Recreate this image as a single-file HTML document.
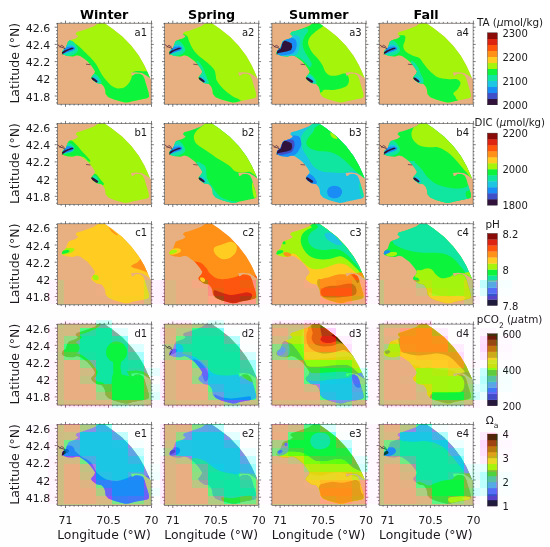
<!DOCTYPE html><html><head><meta charset="utf-8"><title>Seasonal carbonate maps</title>
<style>html,body{margin:0;padding:0;background:#fff}svg{display:block}text{font-family:"DejaVu Sans","Liberation Sans",sans-serif;fill:#1a1a1a}</style></head><body>
<svg width="550" height="547" viewBox="0 0 550 547">
<defs><filter id="dc" x="0" y="0" width="560" height="552" filterUnits="userSpaceOnUse" primitiveUnits="userSpaceOnUse" color-interpolation-filters="sRGB">
<feFlood flood-color="#fff" result="w"/>
<feMerge result="src"><feMergeNode in="w"/><feMergeNode in="SourceGraphic"/></feMerge>
<feColorMatrix in="src" type="matrix" values="0.25 -0.20935 -0.04065 0 0.25  0 0 0 0 0  -0.08435 -0.16565 0.25 0 0.25  0 0 0 0 1" result="ch"/>
<feColorMatrix in="src" type="matrix" values="-0.25 0.20935 0.04065 0 0.25  0 0 0 0 0  0.08435 0.16565 -0.25 0 0.25  0 0 0 0 1" result="cn"/>
<feConvolveMatrix in="ch" order="16 1" kernelMatrix="1 1 1 1 1 1 1 1 1 1 1 1 1 1 1 1" divisor="16" targetX="8" targetY="0" edgeMode="duplicate" preserveAlpha="true" result="bh"/>
<feConvolveMatrix in="bh" order="1 8" kernelMatrix="1 1 1 1 1 1 1 1" divisor="8" targetX="0" targetY="4" edgeMode="duplicate" preserveAlpha="true" result="box"/>
<feFlood x="8" y="4" width="1" height="1" flood-color="#000" result="dot"/>
<feOffset in="dot" dx="0" dy="0" x="0" y="0" width="16" height="8" result="cell"/>
<feTile in="cell" result="grid"/>
<feComposite in="box" in2="grid" operator="in" result="smp"/>
<feMorphology in="smp" operator="dilate" radius="7 3" result="d1"/>
<feOffset in="d1" dx="-1" dy="0" result="d2"/>
<feOffset in="d1" dx="0" dy="-1" result="d3"/>
<feOffset in="d1" dx="-1" dy="-1" result="d4"/>
<feMerge result="blk"><feMergeNode in="d4"/><feMergeNode in="d3"/><feMergeNode in="d2"/><feMergeNode in="d1"/></feMerge>
<feComposite in="blk" in2="cn" operator="arithmetic" k1="0" k2="1" k3="1" k4="0" result="dd"/>
<feColorMatrix in="dd" type="matrix" values="1 0 0 0 0  0 0 0 0 0  0 0 0 0 0.5  0 0 0 0 1" result="ddA"/>
<feOffset in="dd" dx="0" dy="0" x="0" y="600" width="560" height="300" result="ddB"/>
<feMerge result="ddm"><feMergeNode in="ddA"/><feMergeNode in="ddB"/></feMerge>
<feColorMatrix in="ddm" type="matrix" values="0.701 0 0 0 0.1495  -0.357 0 -0.172 0 0.7645  0 0 0.886 0 0.057  0 0 0 0 1" result="xx"/>
<feComposite in="src" in2="xx" operator="arithmetic" k1="0" k2="1" k3="4" k4="-2" x="0" y="280" width="560" height="300" result="low"/>
<feMerge><feMergeNode in="src"/><feMergeNode in="low"/></feMerge>
</filter></defs>
<defs><clipPath id="wm"><path d="M41.5 -0.5 L37.1 2.8 L30.7 5.2 L25.1 7.2 L19.5 8.8 L18.3 10.8 L21.1 13.2 L18.3 15.2 L14.7 16.4 L12.3 17.2 L10.8 18.4 L9.6 21.5 L8.6 24.6 L5.6 27.0 L4.3 30.0 L5.9 31.4 L10.1 32.8 L15.7 33.2 L19.7 32.0 L22.9 32.8 L26.9 35.6 L30.1 38.0 L33.3 41.6 L35.7 44.8 L37.8 48.2 L36.7 50.8 L34.6 53.0 L33.7 54.6 L35.0 56.6 L39.3 59.8 L44.3 60.8 L46.7 63.6 L47.8 66.5 L48.3 70.8 L51.1 74.0 L56.7 76.4 L63.8 78.4 L68.0 79.4 L71.5 79.1 L75.0 78.0 L79.0 77.2 L84.8 76.1 L89.9 75.0 L91.8 73.5 L91.4 69.8 L89.9 64.7 L88.5 60.3 L87.4 56.0 L85.6 52.3 L82.6 50.5 L78.2 50.5 L76.4 51.9 L74.6 52.7 L73.9 50.1 L73.5 49.4 L79.0 49.0 L84.8 49.7 L89.2 52.3 L92.8 55.0 L90.0 48.6 L87.0 42.0 L81.6 32.6 L74.0 22.6 L65.0 13.2 L54.5 5.0 L46.5 -0.5Z"/></clipPath><clipPath id="pc"><rect x="0" y="0" width="93.9" height="81.0"/></clipPath></defs>
<rect width="550" height="547" fill="#fff"/>
<g id="art" filter="url(#dc)">
<g transform="translate(57.3 23.2)">
<g clip-path="url(#pc)">
<rect x="0" y="0" width="93.9" height="81.0" fill="#e8b080"/>
<path d="M46.5 -2.0 L46.5 -0.5 L54.5 5.0 L65.0 13.2 L74.0 22.6 L81.6 32.6 L87.0 42.0 L90.0 48.6 L92.8 55.0 L96.0 58.0 L96.0 -2.0Z" fill="#fff"/>
<g clip-path="url(#wm)">
<rect x="-2" y="-2" width="100" height="86" fill="#a4f40c"/>
<path d="M11.2 16.4 C13.7 16.5 11.8 16.4 13.1 17.2 C14.3 17.9 16.8 19.4 18.7 20.8 C20.6 22.2 22.6 23.9 24.3 25.5 C26.1 27.1 27.3 28.7 29.1 30.4 C30.8 32.2 33.1 34.3 34.7 36.1 C36.3 37.8 37.6 39.2 38.7 40.8 C39.8 42.4 40.4 43.7 41.4 45.5 C42.4 47.3 43.4 49.6 44.7 51.5 C46.0 53.5 47.4 55.3 49.1 57.2 C50.7 59.0 52.8 61.5 54.7 62.8 C56.6 64.1 58.3 64.9 60.3 65.2 C62.3 65.4 64.9 65.2 66.7 64.4 C68.5 63.6 70.0 62.0 71.2 60.4 C72.5 58.9 73.4 56.9 74.0 55.3 C74.6 53.8 74.5 52.4 74.9 51.3 C75.2 50.3 74.5 49.3 76.0 48.8 C77.5 48.3 80.7 47.5 84.0 48.1 C87.3 48.6 93.8 46.6 95.8 52.3 C97.8 58.0 112.0 77.3 95.8 82.3 C79.6 87.3 14.7 93.2 -1.5 82.3 C-17.7 71.3 -3.6 27.8 -1.5 16.8 C0.6 5.8 8.8 16.4 11.2 16.4Z" fill="#0cf43c"/>
<path d="M9.1 17.2 C10.8 16.1 13.2 17.0 14.9 17.9 C16.5 18.7 17.9 20.7 18.9 22.3 C19.9 23.8 21.0 25.9 20.7 27.3 C20.4 28.8 18.8 30.1 17.1 31.0 C15.3 31.9 12.3 32.7 10.3 32.8 C8.4 32.9 6.4 33.2 5.4 31.7 C4.4 30.3 3.7 26.5 4.3 24.1 C4.9 21.6 7.3 18.2 9.1 17.2Z" fill="#10e6a0"/>
<path d="M10.3 21.9 C11.9 21.0 13.6 21.5 14.9 21.9 C16.1 22.3 17.4 23.6 17.8 24.4 C18.2 25.3 17.9 26.3 17.1 27.0 C16.2 27.7 14.3 28.3 12.7 28.8 C11.1 29.3 8.5 30.6 7.2 30.3 C6.0 30.0 4.9 28.4 5.4 27.0 C5.9 25.6 8.8 22.7 10.3 21.9Z" fill="#1cc6e2"/>
<path d="M8.0 24.8 C9.2 23.6 11.9 23.5 13.4 23.3 C14.9 23.2 16.4 23.6 17.1 24.1 C17.7 24.6 17.9 25.6 17.2 26.3 C16.6 26.9 14.7 27.4 13.4 27.9 C12.1 28.4 10.7 28.8 9.4 29.2 C8.2 29.6 6.0 31.0 5.8 30.3 C5.5 29.5 6.7 26.0 8.0 24.8Z" fill="#1a8cf5"/>
<path d="M4.7 29.0 C5.2 28.5 6.6 27.6 8.0 27.0 C9.3 26.3 11.4 25.4 12.7 25.0 C14.0 24.6 15.1 24.5 15.6 24.6 C16.2 24.7 16.4 25.2 16.0 25.5 C15.5 25.9 14.2 26.2 13.1 26.6 C11.9 27.1 10.3 27.6 9.1 28.3 C7.9 28.9 6.5 30.1 5.8 30.4 C5.1 30.7 5.1 30.3 4.9 30.1 C4.7 29.8 4.2 29.5 4.7 29.0Z" fill="#30123b"/>
<path d="M35.2 51.0 C36.0 50.2 37.7 50.6 38.9 51.3 C40.1 52.1 41.6 54.0 42.5 55.3 C43.4 56.7 44.5 58.6 44.3 59.5 C44.2 60.4 43.0 60.8 41.8 60.8 C40.6 60.8 38.3 60.3 37.1 59.5 C35.9 58.7 34.8 57.3 34.5 55.9 C34.2 54.5 34.5 51.7 35.2 51.0Z" fill="#10e6a0"/>
<path d="M36.0 53.5 C36.4 53.0 37.7 53.2 38.5 53.7 C39.3 54.2 40.4 55.6 40.9 56.4 C41.4 57.3 41.9 58.5 41.6 59.0 C41.4 59.5 40.4 59.7 39.4 59.3 C38.5 59.0 36.4 57.8 35.8 56.8 C35.2 55.8 35.5 54.0 36.0 53.5Z" fill="#1cc6e2"/>
<path d="M34.0 54.8 C34.2 54.5 34.4 54.0 35.4 54.4 C36.4 54.9 39.3 56.9 40.0 57.7 C40.6 58.5 39.8 59.0 39.4 59.2 C39.1 59.3 38.6 59.1 37.8 58.6 C36.9 58.1 35.0 56.9 34.3 56.3 C33.7 55.6 33.8 55.1 34.0 54.8Z" fill="#30123b"/>
</g>
<path d="M0.3 21.3 L3.1 23.7 L5.8 24.4 L8.0 25.9" fill="none" stroke="#3a1030" stroke-width="0.7"/>
<path d="M4.9 31.3 L6.2 28.6 L7.6 27.3" fill="none" stroke="#3a1030" stroke-width="0.7"/>
<path d="M2.2 24.1 L4.3 21.9 L7.2 24.1" fill="none" stroke="#3a1030" stroke-width="0.6"/>
<path d="M28.7 41.0 L33.1 41.5" fill="none" stroke="#3a1030" stroke-width="0.6"/>
</g>
<rect x="0" y="0" width="93.9" height="81.0" fill="none" stroke="#484848" stroke-width="0.6"/>
<path d="M0 0.6h-1.3 M93.9 0.6h1.3 M0 4.0h-2.6 M93.9 4.0h2.6 M0 7.4h-1.3 M93.9 7.4h1.3 M0 10.9h-1.3 M93.9 10.9h1.3 M0 14.3h-1.3 M93.9 14.3h1.3 M0 17.8h-1.3 M93.9 17.8h1.3 M0 21.2h-2.6 M93.9 21.2h2.6 M0 24.6h-1.3 M93.9 24.6h1.3 M0 28.1h-1.3 M93.9 28.1h1.3 M0 31.5h-1.3 M93.9 31.5h1.3 M0 35.0h-1.3 M93.9 35.0h1.3 M0 38.4h-2.6 M93.9 38.4h2.6 M0 41.8h-1.3 M93.9 41.8h1.3 M0 45.3h-1.3 M93.9 45.3h1.3 M0 48.7h-1.3 M93.9 48.7h1.3 M0 52.2h-1.3 M93.9 52.2h1.3 M0 55.6h-2.6 M93.9 55.6h2.6 M0 59.0h-1.3 M93.9 59.0h1.3 M0 62.5h-1.3 M93.9 62.5h1.3 M0 65.9h-1.3 M93.9 65.9h1.3 M0 69.4h-1.3 M93.9 69.4h1.3 M0 72.8h-2.6 M93.9 72.8h2.6 M0 76.2h-1.3 M93.9 76.2h1.3 M0 79.7h-1.3 M93.9 79.7h1.3 M3.9 0v-1.3 M3.9 81.0v1.3 M8.2 0v-2.6 M8.2 81.0v2.6 M12.5 0v-1.3 M12.5 81.0v1.3 M16.8 0v-1.3 M16.8 81.0v1.3 M21.1 0v-1.3 M21.1 81.0v1.3 M25.4 0v-1.3 M25.4 81.0v1.3 M29.7 0v-1.3 M29.7 81.0v1.3 M34.0 0v-1.3 M34.0 81.0v1.3 M38.3 0v-1.3 M38.3 81.0v1.3 M42.6 0v-1.3 M42.6 81.0v1.3 M46.9 0v-1.3 M46.9 81.0v1.3 M51.2 0v-2.6 M51.2 81.0v2.6 M55.5 0v-1.3 M55.5 81.0v1.3 M59.8 0v-1.3 M59.8 81.0v1.3 M64.1 0v-1.3 M64.1 81.0v1.3 M68.4 0v-1.3 M68.4 81.0v1.3 M72.7 0v-1.3 M72.7 81.0v1.3 M77.0 0v-1.3 M77.0 81.0v1.3 M81.3 0v-1.3 M81.3 81.0v1.3 M85.6 0v-1.3 M85.6 81.0v1.3 M89.9 0v-1.3 M89.9 81.0v1.3 M94.2 0v-2.6 M94.2 81.0v2.6" stroke="#222" stroke-width="0.6" fill="none"/>
<text x="89.8" y="12.7" font-size="10" text-anchor="end" font-weight="normal" >a1</text>
</g>
<g transform="translate(164.6 23.2)">
<g clip-path="url(#pc)">
<rect x="0" y="0" width="93.9" height="81.0" fill="#e8b080"/>
<path d="M46.5 -2.0 L46.5 -0.5 L54.5 5.0 L65.0 13.2 L74.0 22.6 L81.6 32.6 L87.0 42.0 L90.0 48.6 L92.8 55.0 L96.0 58.0 L96.0 -2.0Z" fill="#fff"/>
<g clip-path="url(#wm)">
<rect x="-2" y="-2" width="100" height="86" fill="#a4f40c"/>
<path d="M13.8 9.5 C17.6 10.0 20.1 10.7 21.9 12.3 C23.8 13.8 23.6 16.3 24.7 18.6 C25.7 20.9 26.8 23.6 28.3 25.9 C29.8 28.2 31.3 30.0 33.8 32.3 C36.2 34.5 40.3 37.3 42.9 39.5 C45.4 41.8 47.9 43.9 49.2 45.9 C50.6 47.9 50.6 49.5 51.0 51.3 C51.5 53.2 51.2 55.0 51.9 56.8 C52.7 58.6 54.1 60.4 55.6 62.3 C57.1 64.1 58.9 65.9 61.0 67.7 C63.2 69.5 65.9 71.6 68.3 73.2 C70.7 74.7 74.0 75.3 75.2 76.8 C76.4 78.3 88.2 81.3 75.6 82.3 C62.9 83.2 11.9 94.4 -0.8 82.3 C-13.5 70.1 -3.2 21.6 -0.8 9.5 C1.6 -2.6 10.0 9.1 13.8 9.5Z" fill="#0cf43c"/>
<path d="M31.9 38.3 C31.9 37.2 33.6 38.0 34.7 39.0 C35.7 40.0 37.3 42.5 38.3 44.4 C39.3 46.3 40.0 48.6 40.7 50.4 C41.4 52.3 42.6 54.3 42.5 55.3 C42.4 56.4 41.1 57.3 40.3 56.8 C39.5 56.3 38.7 54.1 37.8 52.3 C36.8 50.4 35.6 47.9 34.7 45.5 C33.7 43.2 31.9 39.3 31.9 38.3Z" fill="#10e6a0"/>
<path d="M9.0 17.2 C10.8 16.1 13.2 17.0 14.9 17.9 C16.5 18.7 17.9 20.7 18.9 22.3 C19.8 23.8 21.0 25.9 20.7 27.3 C20.4 28.8 18.8 30.1 17.0 31.0 C15.3 31.9 12.2 32.7 10.3 32.8 C8.4 32.9 6.4 33.2 5.4 31.7 C4.4 30.3 3.7 26.5 4.3 24.1 C4.9 21.6 7.3 18.2 9.0 17.2Z" fill="#10e6a0"/>
<path d="M10.3 21.9 C11.9 21.0 13.6 21.5 14.9 21.9 C16.1 22.3 17.4 23.6 17.8 24.4 C18.1 25.3 17.9 26.3 17.0 27.0 C16.2 27.7 14.3 28.3 12.7 28.8 C11.0 29.3 8.4 30.6 7.2 30.3 C6.0 30.0 4.9 28.4 5.4 27.0 C5.9 25.6 8.7 22.7 10.3 21.9Z" fill="#1cc6e2"/>
<path d="M7.9 24.8 C9.2 23.6 11.9 23.5 13.4 23.3 C14.9 23.2 16.4 23.6 17.0 24.1 C17.7 24.6 17.8 25.6 17.2 26.3 C16.6 26.9 14.7 27.4 13.4 27.9 C12.1 28.4 10.7 28.8 9.4 29.2 C8.1 29.6 6.0 31.0 5.8 30.3 C5.5 29.5 6.7 26.0 7.9 24.8Z" fill="#1a8cf5"/>
<path d="M4.7 29.0 C5.2 28.5 6.6 27.6 7.9 27.0 C9.3 26.3 11.4 25.4 12.7 25.0 C13.9 24.6 15.0 24.5 15.6 24.6 C16.1 24.7 16.4 25.2 15.9 25.5 C15.5 25.9 14.2 26.2 13.0 26.6 C11.9 27.1 10.2 27.6 9.0 28.3 C7.8 28.9 6.5 30.1 5.8 30.4 C5.1 30.7 5.0 30.3 4.9 30.1 C4.7 29.8 4.2 29.5 4.7 29.0Z" fill="#30123b"/>
<path d="M35.2 51.0 C35.9 50.2 37.6 50.6 38.9 51.3 C40.1 52.1 41.6 54.0 42.5 55.3 C43.4 56.7 44.4 58.6 44.3 59.5 C44.2 60.4 43.0 60.8 41.8 60.8 C40.6 60.8 38.2 60.3 37.0 59.5 C35.8 58.7 34.8 57.3 34.5 55.9 C34.2 54.5 34.5 51.7 35.2 51.0Z" fill="#10e6a0"/>
<path d="M35.9 53.5 C36.4 53.0 37.7 53.2 38.5 53.7 C39.3 54.2 40.3 55.6 40.9 56.4 C41.4 57.3 41.8 58.5 41.6 59.0 C41.3 59.5 40.4 59.7 39.4 59.3 C38.4 59.0 36.3 57.8 35.8 56.8 C35.2 55.8 35.5 54.0 35.9 53.5Z" fill="#1cc6e2"/>
<path d="M33.9 54.8 C34.1 54.5 34.4 54.0 35.4 54.4 C36.4 54.9 39.3 56.9 39.9 57.7 C40.6 58.5 39.8 59.0 39.4 59.2 C39.0 59.3 38.6 59.1 37.8 58.6 C36.9 58.1 34.9 56.9 34.3 56.3 C33.7 55.6 33.8 55.1 33.9 54.8Z" fill="#30123b"/>
</g>
<path d="M0.3 21.3 L3.1 23.7 L5.8 24.4 L8.0 25.9" fill="none" stroke="#3a1030" stroke-width="0.7"/>
<path d="M4.9 31.3 L6.2 28.6 L7.6 27.3" fill="none" stroke="#3a1030" stroke-width="0.7"/>
<path d="M2.2 24.1 L4.3 21.9 L7.2 24.1" fill="none" stroke="#3a1030" stroke-width="0.6"/>
<path d="M28.7 41.0 L33.1 41.5" fill="none" stroke="#3a1030" stroke-width="0.6"/>
</g>
<rect x="0" y="0" width="93.9" height="81.0" fill="none" stroke="#484848" stroke-width="0.6"/>
<path d="M0 0.6h-1.3 M93.9 0.6h1.3 M0 4.0h-2.6 M93.9 4.0h2.6 M0 7.4h-1.3 M93.9 7.4h1.3 M0 10.9h-1.3 M93.9 10.9h1.3 M0 14.3h-1.3 M93.9 14.3h1.3 M0 17.8h-1.3 M93.9 17.8h1.3 M0 21.2h-2.6 M93.9 21.2h2.6 M0 24.6h-1.3 M93.9 24.6h1.3 M0 28.1h-1.3 M93.9 28.1h1.3 M0 31.5h-1.3 M93.9 31.5h1.3 M0 35.0h-1.3 M93.9 35.0h1.3 M0 38.4h-2.6 M93.9 38.4h2.6 M0 41.8h-1.3 M93.9 41.8h1.3 M0 45.3h-1.3 M93.9 45.3h1.3 M0 48.7h-1.3 M93.9 48.7h1.3 M0 52.2h-1.3 M93.9 52.2h1.3 M0 55.6h-2.6 M93.9 55.6h2.6 M0 59.0h-1.3 M93.9 59.0h1.3 M0 62.5h-1.3 M93.9 62.5h1.3 M0 65.9h-1.3 M93.9 65.9h1.3 M0 69.4h-1.3 M93.9 69.4h1.3 M0 72.8h-2.6 M93.9 72.8h2.6 M0 76.2h-1.3 M93.9 76.2h1.3 M0 79.7h-1.3 M93.9 79.7h1.3 M3.9 0v-1.3 M3.9 81.0v1.3 M8.2 0v-2.6 M8.2 81.0v2.6 M12.5 0v-1.3 M12.5 81.0v1.3 M16.8 0v-1.3 M16.8 81.0v1.3 M21.1 0v-1.3 M21.1 81.0v1.3 M25.4 0v-1.3 M25.4 81.0v1.3 M29.7 0v-1.3 M29.7 81.0v1.3 M34.0 0v-1.3 M34.0 81.0v1.3 M38.3 0v-1.3 M38.3 81.0v1.3 M42.6 0v-1.3 M42.6 81.0v1.3 M46.9 0v-1.3 M46.9 81.0v1.3 M51.2 0v-2.6 M51.2 81.0v2.6 M55.5 0v-1.3 M55.5 81.0v1.3 M59.8 0v-1.3 M59.8 81.0v1.3 M64.1 0v-1.3 M64.1 81.0v1.3 M68.4 0v-1.3 M68.4 81.0v1.3 M72.7 0v-1.3 M72.7 81.0v1.3 M77.0 0v-1.3 M77.0 81.0v1.3 M81.3 0v-1.3 M81.3 81.0v1.3 M85.6 0v-1.3 M85.6 81.0v1.3 M89.9 0v-1.3 M89.9 81.0v1.3 M94.2 0v-2.6 M94.2 81.0v2.6" stroke="#222" stroke-width="0.6" fill="none"/>
<text x="89.8" y="12.7" font-size="10" text-anchor="end" font-weight="normal" >a2</text>
</g>
<g transform="translate(271.9 23.2)">
<g clip-path="url(#pc)">
<rect x="0" y="0" width="93.9" height="81.0" fill="#e8b080"/>
<path d="M46.5 -2.0 L46.5 -0.5 L54.5 5.0 L65.0 13.2 L74.0 22.6 L81.6 32.6 L87.0 42.0 L90.0 48.6 L92.8 55.0 L96.0 58.0 L96.0 -2.0Z" fill="#fff"/>
<g clip-path="url(#wm)">
<rect x="-2" y="-2" width="100" height="86" fill="#a4f40c"/>
<path d="M51.6 2.3 C50.3 3.9 45.7 6.6 43.5 8.6 C41.2 10.6 39.2 12.1 38.0 14.1 C36.8 16.0 35.9 18.0 36.2 20.4 C36.5 22.9 38.2 26.0 39.8 28.6 C41.5 31.2 44.4 33.6 46.2 35.9 C48.0 38.2 49.5 40.1 50.7 42.3 C51.9 44.4 52.3 47.0 53.5 48.6 C54.7 50.3 56.0 51.6 58.0 52.3 C60.0 52.9 63.0 52.6 65.3 52.3 C67.6 52.0 70.0 50.6 71.6 50.4 C73.3 50.3 74.4 50.3 75.3 51.3 C76.2 52.4 77.1 55.0 77.1 56.8 C77.1 58.6 76.5 60.9 75.3 62.3 C74.1 63.6 72.3 64.2 69.8 65.0 C67.4 65.7 63.8 66.5 60.7 66.8 C57.7 67.1 53.8 66.3 51.6 66.8 C49.5 67.3 52.6 68.5 48.0 69.5 C43.5 70.6 32.6 76.2 24.4 73.2 C16.2 70.1 3.2 63.8 -1.1 51.3 C-5.3 38.9 -9.9 7.4 -1.1 -1.4 C7.7 -10.2 42.9 -2.0 51.6 -1.4 C60.4 -0.8 53.0 0.6 51.6 2.3Z" fill="#0cf43c"/>
<path d="M15.3 7.7 C18.9 6.3 23.0 7.3 26.2 6.8 C29.4 6.3 32.7 4.8 34.4 5.0 C36.0 5.1 36.5 6.3 36.2 7.7 C35.9 9.1 33.5 11.0 32.6 13.2 C31.6 15.3 30.7 18.0 30.7 20.4 C30.7 22.9 31.6 25.4 32.6 27.7 C33.5 30.0 35.0 32.0 36.2 34.1 C37.4 36.2 39.5 38.8 39.8 40.4 C40.1 42.1 39.1 44.2 38.0 44.1 C36.9 43.9 35.4 41.2 33.5 39.5 C31.5 37.9 29.2 35.1 26.2 34.1 C23.2 33.0 18.9 33.3 15.3 33.2 C11.6 33.0 6.2 36.2 4.4 33.2 C2.6 30.1 2.6 19.2 4.4 15.0 C6.2 10.7 11.6 9.1 15.3 7.7Z" fill="#10e6a0"/>
<path d="M14.4 13.2 C17.6 12.1 22.1 12.0 24.4 12.3 C26.6 12.6 27.5 13.3 28.0 15.0 C28.6 16.6 27.9 20.0 27.6 22.3 C27.3 24.5 27.0 27.0 26.2 28.6 C25.3 30.3 24.4 31.5 22.6 32.3 C20.7 33.0 18.0 33.2 15.3 33.2 C12.6 33.2 7.9 34.7 6.2 32.3 C4.5 29.8 3.9 21.8 5.3 18.6 C6.6 15.4 11.2 14.2 14.4 13.2Z" fill="#1cc6e2"/>
<path d="M11.6 15.9 C14.4 15.0 19.5 14.4 21.6 15.0 C23.8 15.6 24.3 17.7 24.7 19.5 C25.1 21.3 24.7 24.1 24.0 25.9 C23.3 27.7 22.1 29.5 20.4 30.4 C18.6 31.4 15.8 31.6 13.5 31.7 C11.1 31.9 7.6 33.2 6.2 31.3 C4.8 29.5 4.4 23.0 5.3 20.4 C6.2 17.9 8.9 16.8 11.6 15.9Z" fill="#1a8cf5"/>
<path d="M4.6 30.4 L5.5 27.5 L9.0 25.3 L10.6 19.5 L12.6 17.3 L16.9 18.8 L19.8 20.3 L20.3 23.9 L19.2 26.8 L14.7 28.3 L10.6 29.0 L6.7 29.7Z" fill="#30123b"/>
<path d="M35.6 51.0 C36.4 50.2 38.1 50.6 39.3 51.3 C40.5 52.1 42.0 54.0 42.9 55.3 C43.8 56.7 44.9 58.6 44.7 59.5 C44.6 60.4 43.4 60.8 42.2 60.8 C41.0 60.8 38.7 60.3 37.5 59.5 C36.3 58.7 35.2 57.3 34.9 55.9 C34.6 54.5 34.9 51.7 35.6 51.0Z" fill="#10e6a0"/>
<path d="M36.2 52.8 C36.7 52.2 38.3 52.6 39.3 53.2 C40.2 53.8 41.3 55.4 41.8 56.4 C42.4 57.5 42.9 58.8 42.6 59.3 C42.2 59.9 40.9 60.1 39.8 59.7 C38.7 59.3 36.6 58.0 36.0 56.8 C35.4 55.6 35.6 53.4 36.2 52.8Z" fill="#1cc6e2"/>
<path d="M34.2 54.6 C34.4 54.3 34.9 53.7 36.0 54.3 C37.2 54.8 40.4 57.0 41.1 57.9 C41.8 58.8 40.9 59.3 40.4 59.5 C39.9 59.7 39.2 59.5 38.2 59.0 C37.2 58.4 35.2 57.0 34.6 56.3 C33.9 55.5 33.9 55.0 34.2 54.6Z" fill="#30123b"/>
</g>
<path d="M0.3 21.3 L3.1 23.7 L5.8 24.4 L8.0 25.9" fill="none" stroke="#3a1030" stroke-width="0.7"/>
<path d="M4.9 31.3 L6.2 28.6 L7.6 27.3" fill="none" stroke="#3a1030" stroke-width="0.7"/>
<path d="M2.2 24.1 L4.3 21.9 L7.2 24.1" fill="none" stroke="#3a1030" stroke-width="0.6"/>
<path d="M28.7 41.0 L33.1 41.5" fill="none" stroke="#3a1030" stroke-width="0.6"/>
</g>
<rect x="0" y="0" width="93.9" height="81.0" fill="none" stroke="#484848" stroke-width="0.6"/>
<path d="M0 0.6h-1.3 M93.9 0.6h1.3 M0 4.0h-2.6 M93.9 4.0h2.6 M0 7.4h-1.3 M93.9 7.4h1.3 M0 10.9h-1.3 M93.9 10.9h1.3 M0 14.3h-1.3 M93.9 14.3h1.3 M0 17.8h-1.3 M93.9 17.8h1.3 M0 21.2h-2.6 M93.9 21.2h2.6 M0 24.6h-1.3 M93.9 24.6h1.3 M0 28.1h-1.3 M93.9 28.1h1.3 M0 31.5h-1.3 M93.9 31.5h1.3 M0 35.0h-1.3 M93.9 35.0h1.3 M0 38.4h-2.6 M93.9 38.4h2.6 M0 41.8h-1.3 M93.9 41.8h1.3 M0 45.3h-1.3 M93.9 45.3h1.3 M0 48.7h-1.3 M93.9 48.7h1.3 M0 52.2h-1.3 M93.9 52.2h1.3 M0 55.6h-2.6 M93.9 55.6h2.6 M0 59.0h-1.3 M93.9 59.0h1.3 M0 62.5h-1.3 M93.9 62.5h1.3 M0 65.9h-1.3 M93.9 65.9h1.3 M0 69.4h-1.3 M93.9 69.4h1.3 M0 72.8h-2.6 M93.9 72.8h2.6 M0 76.2h-1.3 M93.9 76.2h1.3 M0 79.7h-1.3 M93.9 79.7h1.3 M3.9 0v-1.3 M3.9 81.0v1.3 M8.2 0v-2.6 M8.2 81.0v2.6 M12.5 0v-1.3 M12.5 81.0v1.3 M16.8 0v-1.3 M16.8 81.0v1.3 M21.1 0v-1.3 M21.1 81.0v1.3 M25.4 0v-1.3 M25.4 81.0v1.3 M29.7 0v-1.3 M29.7 81.0v1.3 M34.0 0v-1.3 M34.0 81.0v1.3 M38.3 0v-1.3 M38.3 81.0v1.3 M42.6 0v-1.3 M42.6 81.0v1.3 M46.9 0v-1.3 M46.9 81.0v1.3 M51.2 0v-2.6 M51.2 81.0v2.6 M55.5 0v-1.3 M55.5 81.0v1.3 M59.8 0v-1.3 M59.8 81.0v1.3 M64.1 0v-1.3 M64.1 81.0v1.3 M68.4 0v-1.3 M68.4 81.0v1.3 M72.7 0v-1.3 M72.7 81.0v1.3 M77.0 0v-1.3 M77.0 81.0v1.3 M81.3 0v-1.3 M81.3 81.0v1.3 M85.6 0v-1.3 M85.6 81.0v1.3 M89.9 0v-1.3 M89.9 81.0v1.3 M94.2 0v-2.6 M94.2 81.0v2.6" stroke="#222" stroke-width="0.6" fill="none"/>
<text x="89.8" y="12.7" font-size="10" text-anchor="end" font-weight="normal" >a3</text>
</g>
<g transform="translate(379.2 23.2)">
<g clip-path="url(#pc)">
<rect x="0" y="0" width="93.9" height="81.0" fill="#e8b080"/>
<path d="M46.5 -2.0 L46.5 -0.5 L54.5 5.0 L65.0 13.2 L74.0 22.6 L81.6 32.6 L87.0 42.0 L90.0 48.6 L92.8 55.0 L96.0 58.0 L96.0 -2.0Z" fill="#fff"/>
<g clip-path="url(#wm)">
<rect x="-2" y="-2" width="100" height="86" fill="#a4f40c"/>
<path d="M15.0 12.3 C19.4 12.3 23.2 11.5 25.0 12.3 C26.8 13.0 26.0 15.0 25.9 16.8 C25.7 18.6 23.9 21.2 24.1 23.2 C24.2 25.1 25.3 27.1 26.8 28.6 C28.3 30.1 30.9 31.2 33.2 32.3 C35.4 33.3 38.5 33.5 40.4 35.0 C42.4 36.5 43.2 39.1 45.0 41.3 C46.8 43.6 49.1 46.5 51.3 48.6 C53.6 50.7 55.9 52.9 58.6 54.1 C61.3 55.3 64.7 55.6 67.7 55.9 C70.7 56.2 74.5 55.3 76.8 55.9 C79.1 56.5 81.0 57.9 81.3 59.5 C81.6 61.2 79.8 64.1 78.6 65.9 C77.4 67.7 74.4 68.9 74.1 70.4 C73.8 72.0 76.8 73.0 76.8 75.0 C76.8 77.0 87.1 81.0 74.1 82.3 C61.0 83.5 11.2 93.9 -1.4 82.3 C-14.0 70.6 -4.1 23.9 -1.4 12.3 C1.3 0.6 10.6 12.3 15.0 12.3Z" fill="#0cf43c"/>
<path d="M31.7 38.3 C31.8 37.2 33.8 38.0 35.0 39.0 C36.2 40.0 37.9 42.5 39.0 44.4 C40.1 46.3 40.6 48.4 41.5 50.4 C42.4 52.5 44.3 55.3 44.4 56.8 C44.6 58.3 43.3 60.1 42.3 59.5 C41.2 58.9 39.5 55.5 38.3 53.2 C37.0 50.8 35.7 48.0 34.6 45.5 C33.5 43.0 31.6 39.3 31.7 38.3Z" fill="#10e6a0"/>
<path d="M9.2 17.2 C10.9 16.1 13.3 17.0 15.0 17.9 C16.6 18.7 18.0 20.7 19.0 22.3 C20.0 23.8 21.1 25.9 20.8 27.3 C20.5 28.8 18.9 30.1 17.2 31.0 C15.4 31.9 12.4 32.7 10.4 32.8 C8.5 32.9 6.5 33.2 5.5 31.7 C4.5 30.3 3.8 26.5 4.4 24.1 C5.0 21.6 7.4 18.2 9.2 17.2Z" fill="#10e6a0"/>
<path d="M10.4 21.9 C12.0 21.0 13.7 21.5 15.0 21.9 C16.2 22.3 17.5 23.6 17.9 24.4 C18.3 25.3 18.0 26.3 17.2 27.0 C16.3 27.7 14.4 28.3 12.8 28.8 C11.2 29.3 8.6 30.6 7.3 30.3 C6.1 30.0 5.0 28.4 5.5 27.0 C6.0 25.6 8.9 22.7 10.4 21.9Z" fill="#1cc6e2"/>
<path d="M8.1 24.8 C9.3 23.6 12.0 23.5 13.5 23.3 C15.0 23.2 16.5 23.6 17.2 24.1 C17.8 24.6 18.0 25.6 17.3 26.3 C16.7 26.9 14.8 27.4 13.5 27.9 C12.2 28.4 10.8 28.8 9.5 29.2 C8.3 29.6 6.1 31.0 5.9 30.3 C5.6 29.5 6.8 26.0 8.1 24.8Z" fill="#1a8cf5"/>
<path d="M4.8 29.0 C5.3 28.5 6.7 27.6 8.1 27.0 C9.4 26.3 11.5 25.4 12.8 25.0 C14.1 24.6 15.2 24.5 15.7 24.6 C16.3 24.7 16.5 25.2 16.1 25.5 C15.6 25.9 14.3 26.2 13.2 26.6 C12.0 27.1 10.4 27.6 9.2 28.3 C8.0 28.9 6.6 30.1 5.9 30.4 C5.2 30.7 5.2 30.3 5.0 30.1 C4.8 29.8 4.3 29.5 4.8 29.0Z" fill="#30123b"/>
<path d="M35.3 51.0 C36.1 50.2 37.8 50.6 39.0 51.3 C40.2 52.1 41.7 54.0 42.6 55.3 C43.5 56.7 44.6 58.6 44.4 59.5 C44.3 60.4 43.1 60.8 41.9 60.8 C40.7 60.8 38.4 60.3 37.2 59.5 C36.0 58.7 34.9 57.3 34.6 55.9 C34.3 54.5 34.6 51.7 35.3 51.0Z" fill="#10e6a0"/>
<path d="M36.1 53.5 C36.5 53.0 37.8 53.2 38.6 53.7 C39.4 54.2 40.5 55.6 41.0 56.4 C41.5 57.3 42.0 58.5 41.7 59.0 C41.5 59.5 40.5 59.7 39.5 59.3 C38.6 59.0 36.5 57.8 35.9 56.8 C35.3 55.8 35.6 54.0 36.1 53.5Z" fill="#1cc6e2"/>
<path d="M34.1 54.8 C34.3 54.5 34.5 54.0 35.5 54.4 C36.5 54.9 39.4 56.9 40.1 57.7 C40.7 58.5 39.9 59.0 39.5 59.2 C39.2 59.3 38.7 59.1 37.9 58.6 C37.0 58.1 35.1 56.9 34.4 56.3 C33.8 55.6 33.9 55.1 34.1 54.8Z" fill="#30123b"/>
</g>
<path d="M0.3 21.3 L3.1 23.7 L5.8 24.4 L8.0 25.9" fill="none" stroke="#3a1030" stroke-width="0.7"/>
<path d="M4.9 31.3 L6.2 28.6 L7.6 27.3" fill="none" stroke="#3a1030" stroke-width="0.7"/>
<path d="M2.2 24.1 L4.3 21.9 L7.2 24.1" fill="none" stroke="#3a1030" stroke-width="0.6"/>
<path d="M28.7 41.0 L33.1 41.5" fill="none" stroke="#3a1030" stroke-width="0.6"/>
</g>
<rect x="0" y="0" width="93.9" height="81.0" fill="none" stroke="#484848" stroke-width="0.6"/>
<path d="M0 0.6h-1.3 M93.9 0.6h1.3 M0 4.0h-2.6 M93.9 4.0h2.6 M0 7.4h-1.3 M93.9 7.4h1.3 M0 10.9h-1.3 M93.9 10.9h1.3 M0 14.3h-1.3 M93.9 14.3h1.3 M0 17.8h-1.3 M93.9 17.8h1.3 M0 21.2h-2.6 M93.9 21.2h2.6 M0 24.6h-1.3 M93.9 24.6h1.3 M0 28.1h-1.3 M93.9 28.1h1.3 M0 31.5h-1.3 M93.9 31.5h1.3 M0 35.0h-1.3 M93.9 35.0h1.3 M0 38.4h-2.6 M93.9 38.4h2.6 M0 41.8h-1.3 M93.9 41.8h1.3 M0 45.3h-1.3 M93.9 45.3h1.3 M0 48.7h-1.3 M93.9 48.7h1.3 M0 52.2h-1.3 M93.9 52.2h1.3 M0 55.6h-2.6 M93.9 55.6h2.6 M0 59.0h-1.3 M93.9 59.0h1.3 M0 62.5h-1.3 M93.9 62.5h1.3 M0 65.9h-1.3 M93.9 65.9h1.3 M0 69.4h-1.3 M93.9 69.4h1.3 M0 72.8h-2.6 M93.9 72.8h2.6 M0 76.2h-1.3 M93.9 76.2h1.3 M0 79.7h-1.3 M93.9 79.7h1.3 M3.9 0v-1.3 M3.9 81.0v1.3 M8.2 0v-2.6 M8.2 81.0v2.6 M12.5 0v-1.3 M12.5 81.0v1.3 M16.8 0v-1.3 M16.8 81.0v1.3 M21.1 0v-1.3 M21.1 81.0v1.3 M25.4 0v-1.3 M25.4 81.0v1.3 M29.7 0v-1.3 M29.7 81.0v1.3 M34.0 0v-1.3 M34.0 81.0v1.3 M38.3 0v-1.3 M38.3 81.0v1.3 M42.6 0v-1.3 M42.6 81.0v1.3 M46.9 0v-1.3 M46.9 81.0v1.3 M51.2 0v-2.6 M51.2 81.0v2.6 M55.5 0v-1.3 M55.5 81.0v1.3 M59.8 0v-1.3 M59.8 81.0v1.3 M64.1 0v-1.3 M64.1 81.0v1.3 M68.4 0v-1.3 M68.4 81.0v1.3 M72.7 0v-1.3 M72.7 81.0v1.3 M77.0 0v-1.3 M77.0 81.0v1.3 M81.3 0v-1.3 M81.3 81.0v1.3 M85.6 0v-1.3 M85.6 81.0v1.3 M89.9 0v-1.3 M89.9 81.0v1.3 M94.2 0v-2.6 M94.2 81.0v2.6" stroke="#222" stroke-width="0.6" fill="none"/>
<text x="89.8" y="12.7" font-size="10" text-anchor="end" font-weight="normal" >a4</text>
</g>
<g transform="translate(57.3 123.5)">
<g clip-path="url(#pc)">
<rect x="0" y="0" width="93.9" height="81.0" fill="#e8b080"/>
<path d="M46.5 -2.0 L46.5 -0.5 L54.5 5.0 L65.0 13.2 L74.0 22.6 L81.6 32.6 L87.0 42.0 L90.0 48.6 L92.8 55.0 L96.0 58.0 L96.0 -2.0Z" fill="#fff"/>
<g clip-path="url(#wm)">
<rect x="-2" y="-2" width="100" height="86" fill="#a4f40c"/>
<path d="M9.4 16.9 C11.1 15.8 12.9 16.4 14.5 17.2 C16.2 18.0 17.9 20.0 19.4 21.6 C21.0 23.2 22.2 25.0 24.0 27.0 C25.8 29.1 28.8 32.0 30.3 33.8 C31.9 35.5 32.9 36.7 33.1 37.4 C33.2 38.1 32.3 38.6 31.2 38.0 C30.2 37.3 28.5 34.7 26.7 33.8 C24.9 32.9 22.6 32.6 20.3 32.5 C18.1 32.4 15.5 33.4 13.1 33.4 C10.6 33.4 7.2 34.1 5.8 32.5 C4.3 30.9 3.7 26.4 4.3 23.8 C4.9 21.2 7.7 18.0 9.4 16.9Z" fill="#0cf43c"/>
<path d="M34.9 50.3 C35.7 49.7 37.4 49.7 38.9 50.7 C40.3 51.7 42.3 54.9 43.6 56.5 C44.9 58.1 46.6 59.6 46.7 60.5 C46.8 61.4 45.2 62.0 44.3 62.0 C43.4 62.0 42.7 61.0 41.2 60.5 C39.8 60.0 37.0 60.2 35.8 59.2 C34.6 58.3 34.1 56.2 34.0 54.7 C33.8 53.2 34.1 51.0 34.9 50.3Z" fill="#0cf43c"/>
<path d="M9.4 19.8 C11.0 18.9 12.9 19.8 14.2 20.5 C15.4 21.2 16.7 23.0 17.1 24.1 C17.4 25.3 17.2 26.6 16.3 27.4 C15.5 28.3 13.8 28.7 12.2 29.2 C10.5 29.7 7.9 30.9 6.7 30.3 C5.5 29.7 4.4 27.3 4.9 25.6 C5.3 23.8 7.9 20.6 9.4 19.8Z" fill="#10e6a0"/>
<path d="M7.6 23.8 C8.9 22.7 12.0 22.8 13.4 23.0 C14.9 23.3 16.2 24.3 16.3 25.0 C16.5 25.8 15.7 26.8 14.5 27.4 C13.4 28.0 10.9 28.5 9.4 28.9 C7.9 29.2 5.7 30.4 5.4 29.6 C5.1 28.7 6.3 24.9 7.6 23.8Z" fill="#1a8cf5"/>
<path d="M4.7 28.7 C5.2 28.2 6.6 27.3 8.0 26.7 C9.3 26.0 11.4 25.1 12.7 24.7 C14.0 24.3 15.1 24.2 15.6 24.3 C16.2 24.4 16.4 24.9 16.0 25.2 C15.5 25.6 14.2 25.9 13.1 26.3 C11.9 26.8 10.3 27.3 9.1 28.0 C7.9 28.6 6.5 29.8 5.8 30.1 C5.1 30.4 5.1 30.0 4.9 29.8 C4.7 29.5 4.2 29.2 4.7 28.7Z" fill="#30123b"/>
<path d="M35.6 52.1 C36.1 51.5 37.6 51.9 38.5 52.5 C39.4 53.1 40.5 54.7 41.1 55.8 C41.6 56.8 42.1 58.1 41.8 58.7 C41.5 59.2 40.3 59.5 39.2 59.0 C38.2 58.6 36.0 57.3 35.4 56.1 C34.8 55.0 35.1 52.7 35.6 52.1Z" fill="#10e6a0"/>
<path d="M33.8 54.3 C34.0 54.0 34.5 53.4 35.6 54.0 C36.8 54.5 40.0 56.7 40.7 57.6 C41.4 58.5 40.5 59.0 40.0 59.2 C39.5 59.4 38.8 59.2 37.8 58.7 C36.8 58.1 34.8 56.7 34.2 56.0 C33.5 55.2 33.5 54.7 33.8 54.3Z" fill="#30123b"/>
</g>
<path d="M0.3 21.3 L3.1 23.7 L5.8 24.4 L8.0 25.9" fill="none" stroke="#3a1030" stroke-width="0.7"/>
<path d="M4.9 31.3 L6.2 28.6 L7.6 27.3" fill="none" stroke="#3a1030" stroke-width="0.7"/>
<path d="M2.2 24.1 L4.3 21.9 L7.2 24.1" fill="none" stroke="#3a1030" stroke-width="0.6"/>
<path d="M28.7 41.0 L33.1 41.5" fill="none" stroke="#3a1030" stroke-width="0.6"/>
</g>
<rect x="0" y="0" width="93.9" height="81.0" fill="none" stroke="#484848" stroke-width="0.6"/>
<path d="M0 0.6h-1.3 M93.9 0.6h1.3 M0 4.0h-2.6 M93.9 4.0h2.6 M0 7.4h-1.3 M93.9 7.4h1.3 M0 10.9h-1.3 M93.9 10.9h1.3 M0 14.3h-1.3 M93.9 14.3h1.3 M0 17.8h-1.3 M93.9 17.8h1.3 M0 21.2h-2.6 M93.9 21.2h2.6 M0 24.6h-1.3 M93.9 24.6h1.3 M0 28.1h-1.3 M93.9 28.1h1.3 M0 31.5h-1.3 M93.9 31.5h1.3 M0 35.0h-1.3 M93.9 35.0h1.3 M0 38.4h-2.6 M93.9 38.4h2.6 M0 41.8h-1.3 M93.9 41.8h1.3 M0 45.3h-1.3 M93.9 45.3h1.3 M0 48.7h-1.3 M93.9 48.7h1.3 M0 52.2h-1.3 M93.9 52.2h1.3 M0 55.6h-2.6 M93.9 55.6h2.6 M0 59.0h-1.3 M93.9 59.0h1.3 M0 62.5h-1.3 M93.9 62.5h1.3 M0 65.9h-1.3 M93.9 65.9h1.3 M0 69.4h-1.3 M93.9 69.4h1.3 M0 72.8h-2.6 M93.9 72.8h2.6 M0 76.2h-1.3 M93.9 76.2h1.3 M0 79.7h-1.3 M93.9 79.7h1.3 M3.9 0v-1.3 M3.9 81.0v1.3 M8.2 0v-2.6 M8.2 81.0v2.6 M12.5 0v-1.3 M12.5 81.0v1.3 M16.8 0v-1.3 M16.8 81.0v1.3 M21.1 0v-1.3 M21.1 81.0v1.3 M25.4 0v-1.3 M25.4 81.0v1.3 M29.7 0v-1.3 M29.7 81.0v1.3 M34.0 0v-1.3 M34.0 81.0v1.3 M38.3 0v-1.3 M38.3 81.0v1.3 M42.6 0v-1.3 M42.6 81.0v1.3 M46.9 0v-1.3 M46.9 81.0v1.3 M51.2 0v-2.6 M51.2 81.0v2.6 M55.5 0v-1.3 M55.5 81.0v1.3 M59.8 0v-1.3 M59.8 81.0v1.3 M64.1 0v-1.3 M64.1 81.0v1.3 M68.4 0v-1.3 M68.4 81.0v1.3 M72.7 0v-1.3 M72.7 81.0v1.3 M77.0 0v-1.3 M77.0 81.0v1.3 M81.3 0v-1.3 M81.3 81.0v1.3 M85.6 0v-1.3 M85.6 81.0v1.3 M89.9 0v-1.3 M89.9 81.0v1.3 M94.2 0v-2.6 M94.2 81.0v2.6" stroke="#222" stroke-width="0.6" fill="none"/>
<text x="89.8" y="12.7" font-size="10" text-anchor="end" font-weight="normal" >b1</text>
</g>
<g transform="translate(164.6 123.5)">
<g clip-path="url(#pc)">
<rect x="0" y="0" width="93.9" height="81.0" fill="#e8b080"/>
<path d="M46.5 -2.0 L46.5 -0.5 L54.5 5.0 L65.0 13.2 L74.0 22.6 L81.6 32.6 L87.0 42.0 L90.0 48.6 L92.8 55.0 L96.0 58.0 L96.0 -2.0Z" fill="#fff"/>
<g clip-path="url(#wm)">
<rect x="-2" y="-2" width="100" height="86" fill="#0cf43c"/>
<path d="M39.2 1.0 C38.0 2.6 33.6 5.4 31.9 7.4 C30.3 9.4 29.4 10.9 29.2 12.9 C29.1 14.8 29.8 17.4 31.0 19.2 C32.2 21.0 34.2 22.1 36.5 23.8 C38.8 25.4 41.8 27.3 44.7 29.2 C47.6 31.2 51.2 33.9 53.8 35.6 C56.3 37.3 58.2 38.0 60.1 39.2 C62.1 40.4 63.9 41.5 65.6 42.9 C67.2 44.2 68.2 46.3 70.1 47.4 C72.1 48.5 75.0 49.1 77.4 49.2 C79.8 49.4 81.9 47.9 84.7 48.3 C87.4 48.8 91.8 54.5 93.8 52.0 C95.7 49.4 96.0 41.8 96.5 32.9 C96.9 23.9 106.0 4.1 96.5 -1.7 C86.9 -7.4 48.8 -2.1 39.2 -1.7 C29.7 -1.2 40.4 -0.5 39.2 1.0Z" fill="#a4f40c"/>
<path d="M87.8 59.2 C88.6 57.7 91.9 55.9 92.9 58.3 C93.9 60.7 94.3 71.1 93.8 73.8 C93.2 76.4 90.7 75.4 89.8 74.3 C88.8 73.3 88.3 69.9 87.9 67.4 C87.6 64.9 86.9 60.7 87.8 59.2Z" fill="#a4f40c"/>
<path d="M32.3 38.7 C32.8 37.4 35.0 39.0 36.5 39.8 C37.9 40.6 40.1 41.5 41.0 43.4 C41.9 45.3 41.6 48.9 41.9 51.0 C42.2 53.2 42.0 54.7 42.9 56.5 C43.7 58.3 45.3 59.8 46.9 62.0 C48.4 64.1 50.2 67.2 51.9 69.2 C53.7 71.3 55.0 73.0 57.4 74.3 C59.8 75.7 63.6 76.7 66.5 77.4 C69.4 78.1 73.3 77.9 74.7 78.7 C76.0 79.4 77.6 81.6 74.7 82.0 C71.8 82.3 62.1 82.6 57.4 81.0 C52.7 79.5 49.5 76.3 46.5 72.9 C43.5 69.4 41.3 64.4 39.2 60.1 C37.1 55.9 34.9 51.0 33.8 47.4 C32.6 43.8 31.9 40.0 32.3 38.7Z" fill="#10e6a0"/>
<path d="M9.0 16.9 C10.8 15.8 13.2 16.7 14.9 17.6 C16.5 18.4 17.9 20.4 18.9 22.0 C19.8 23.5 21.0 25.6 20.7 27.0 C20.4 28.5 18.8 29.8 17.0 30.7 C15.3 31.6 12.2 32.4 10.3 32.5 C8.4 32.6 6.4 32.9 5.4 31.4 C4.4 30.0 3.7 26.2 4.3 23.8 C4.9 21.3 7.3 17.9 9.0 16.9Z" fill="#10e6a0"/>
<path d="M10.3 21.6 C11.9 20.7 13.6 21.2 14.9 21.6 C16.1 22.0 17.4 23.3 17.8 24.1 C18.1 25.0 17.9 26.0 17.0 26.7 C16.2 27.4 14.3 28.0 12.7 28.5 C11.0 29.0 8.4 30.3 7.2 30.0 C6.0 29.7 4.9 28.1 5.4 26.7 C5.9 25.3 8.7 22.4 10.3 21.6Z" fill="#1cc6e2"/>
<path d="M7.9 24.5 C9.2 23.3 11.9 23.2 13.4 23.0 C14.9 22.9 16.4 23.3 17.0 23.8 C17.7 24.3 17.8 25.3 17.2 26.0 C16.6 26.6 14.7 27.1 13.4 27.6 C12.1 28.1 10.7 28.5 9.4 28.9 C8.1 29.3 6.0 30.7 5.8 30.0 C5.5 29.2 6.7 25.7 7.9 24.5Z" fill="#1a8cf5"/>
<path d="M4.7 28.7 C5.2 28.2 6.6 27.3 7.9 26.7 C9.3 26.0 11.4 25.1 12.7 24.7 C13.9 24.3 15.0 24.2 15.6 24.3 C16.1 24.4 16.4 24.9 15.9 25.2 C15.5 25.6 14.2 25.9 13.0 26.3 C11.9 26.8 10.2 27.3 9.0 28.0 C7.8 28.6 6.5 29.8 5.8 30.1 C5.1 30.4 5.0 30.0 4.9 29.8 C4.7 29.5 4.2 29.2 4.7 28.7Z" fill="#30123b"/>
<path d="M35.2 50.7 C35.9 49.9 37.6 50.3 38.9 51.0 C40.1 51.8 41.6 53.7 42.5 55.0 C43.4 56.4 44.4 58.3 44.3 59.2 C44.2 60.1 43.0 60.5 41.8 60.5 C40.6 60.5 38.2 60.0 37.0 59.2 C35.8 58.4 34.8 57.0 34.5 55.6 C34.2 54.2 34.5 51.4 35.2 50.7Z" fill="#10e6a0"/>
<path d="M35.9 53.2 C36.4 52.7 37.7 52.9 38.5 53.4 C39.3 53.9 40.3 55.3 40.9 56.1 C41.4 57.0 41.8 58.2 41.6 58.7 C41.3 59.2 40.4 59.4 39.4 59.0 C38.4 58.7 36.3 57.5 35.8 56.5 C35.2 55.5 35.5 53.7 35.9 53.2Z" fill="#1cc6e2"/>
<path d="M33.9 54.5 C34.1 54.2 34.4 53.7 35.4 54.1 C36.4 54.6 39.3 56.6 39.9 57.4 C40.6 58.2 39.8 58.7 39.4 58.9 C39.0 59.0 38.6 58.8 37.8 58.3 C36.9 57.8 34.9 56.6 34.3 56.0 C33.7 55.3 33.8 54.8 33.9 54.5Z" fill="#30123b"/>
</g>
<path d="M0.3 21.3 L3.1 23.7 L5.8 24.4 L8.0 25.9" fill="none" stroke="#3a1030" stroke-width="0.7"/>
<path d="M4.9 31.3 L6.2 28.6 L7.6 27.3" fill="none" stroke="#3a1030" stroke-width="0.7"/>
<path d="M2.2 24.1 L4.3 21.9 L7.2 24.1" fill="none" stroke="#3a1030" stroke-width="0.6"/>
<path d="M28.7 41.0 L33.1 41.5" fill="none" stroke="#3a1030" stroke-width="0.6"/>
</g>
<rect x="0" y="0" width="93.9" height="81.0" fill="none" stroke="#484848" stroke-width="0.6"/>
<path d="M0 0.6h-1.3 M93.9 0.6h1.3 M0 4.0h-2.6 M93.9 4.0h2.6 M0 7.4h-1.3 M93.9 7.4h1.3 M0 10.9h-1.3 M93.9 10.9h1.3 M0 14.3h-1.3 M93.9 14.3h1.3 M0 17.8h-1.3 M93.9 17.8h1.3 M0 21.2h-2.6 M93.9 21.2h2.6 M0 24.6h-1.3 M93.9 24.6h1.3 M0 28.1h-1.3 M93.9 28.1h1.3 M0 31.5h-1.3 M93.9 31.5h1.3 M0 35.0h-1.3 M93.9 35.0h1.3 M0 38.4h-2.6 M93.9 38.4h2.6 M0 41.8h-1.3 M93.9 41.8h1.3 M0 45.3h-1.3 M93.9 45.3h1.3 M0 48.7h-1.3 M93.9 48.7h1.3 M0 52.2h-1.3 M93.9 52.2h1.3 M0 55.6h-2.6 M93.9 55.6h2.6 M0 59.0h-1.3 M93.9 59.0h1.3 M0 62.5h-1.3 M93.9 62.5h1.3 M0 65.9h-1.3 M93.9 65.9h1.3 M0 69.4h-1.3 M93.9 69.4h1.3 M0 72.8h-2.6 M93.9 72.8h2.6 M0 76.2h-1.3 M93.9 76.2h1.3 M0 79.7h-1.3 M93.9 79.7h1.3 M3.9 0v-1.3 M3.9 81.0v1.3 M8.2 0v-2.6 M8.2 81.0v2.6 M12.5 0v-1.3 M12.5 81.0v1.3 M16.8 0v-1.3 M16.8 81.0v1.3 M21.1 0v-1.3 M21.1 81.0v1.3 M25.4 0v-1.3 M25.4 81.0v1.3 M29.7 0v-1.3 M29.7 81.0v1.3 M34.0 0v-1.3 M34.0 81.0v1.3 M38.3 0v-1.3 M38.3 81.0v1.3 M42.6 0v-1.3 M42.6 81.0v1.3 M46.9 0v-1.3 M46.9 81.0v1.3 M51.2 0v-2.6 M51.2 81.0v2.6 M55.5 0v-1.3 M55.5 81.0v1.3 M59.8 0v-1.3 M59.8 81.0v1.3 M64.1 0v-1.3 M64.1 81.0v1.3 M68.4 0v-1.3 M68.4 81.0v1.3 M72.7 0v-1.3 M72.7 81.0v1.3 M77.0 0v-1.3 M77.0 81.0v1.3 M81.3 0v-1.3 M81.3 81.0v1.3 M85.6 0v-1.3 M85.6 81.0v1.3 M89.9 0v-1.3 M89.9 81.0v1.3 M94.2 0v-2.6 M94.2 81.0v2.6" stroke="#222" stroke-width="0.6" fill="none"/>
<text x="89.8" y="12.7" font-size="10" text-anchor="end" font-weight="normal" >b2</text>
</g>
<g transform="translate(271.9 123.5)">
<g clip-path="url(#pc)">
<rect x="0" y="0" width="93.9" height="81.0" fill="#e8b080"/>
<path d="M46.5 -2.0 L46.5 -0.5 L54.5 5.0 L65.0 13.2 L74.0 22.6 L81.6 32.6 L87.0 42.0 L90.0 48.6 L92.8 55.0 L96.0 58.0 L96.0 -2.0Z" fill="#fff"/>
<g clip-path="url(#wm)">
<rect x="-2" y="-2" width="100" height="86" fill="#1cc6e2"/>
<path d="M39.8 1.0 C38.5 2.9 33.5 6.7 31.6 9.2 C29.8 11.8 29.1 13.8 28.9 16.5 C28.8 19.2 29.5 22.6 30.7 25.6 C31.9 28.6 34.2 31.7 36.2 34.7 C38.2 37.7 40.0 41.5 42.6 43.8 C45.1 46.0 48.0 47.4 51.6 48.3 C55.3 49.2 60.7 49.1 64.4 49.2 C68.0 49.4 71.2 49.5 73.5 49.2 C75.7 49.0 76.2 47.9 78.0 47.8 C79.8 47.6 81.3 47.5 84.4 48.3 C87.4 49.2 94.2 61.2 96.2 52.9 C98.2 44.5 105.6 7.4 96.2 -1.7 C86.8 -10.8 49.2 -2.1 39.8 -1.7 C30.4 -1.2 41.2 -0.8 39.8 1.0Z" fill="#10e6a0"/>
<path d="M49.8 1.0 C40.6 2.9 43.0 7.0 40.7 9.2 C38.5 11.5 37.3 12.9 36.2 14.7 C35.1 16.5 34.1 18.5 34.4 20.1 C34.7 21.8 36.0 23.5 38.0 24.7 C40.0 25.9 43.0 26.8 46.2 27.4 C49.4 28.0 53.8 27.6 57.1 28.3 C60.4 29.1 63.5 30.4 66.2 32.0 C68.9 33.5 71.0 35.3 73.5 37.4 C75.9 39.5 78.3 42.4 80.7 44.7 C83.2 47.0 85.4 49.4 88.0 51.0 C90.6 52.7 94.8 63.5 96.2 54.7 C97.6 45.9 103.9 7.3 96.2 -1.7 C88.5 -10.6 59.1 -0.8 49.8 1.0Z" fill="#0cf43c"/>
<path d="M58.6 8.9 C58.9 8.5 60.1 8.9 61.1 9.6 C62.1 10.3 64.0 12.2 64.7 13.2 C65.4 14.2 65.8 15.3 65.3 15.6 C64.8 15.8 62.7 15.3 61.6 14.7 C60.6 14.1 59.4 12.9 58.9 12.0 C58.4 11.0 58.2 9.3 58.6 8.9Z" fill="#a4f40c"/>
<path d="M87.5 60.1 C88.2 58.8 91.6 57.3 92.6 59.2 C93.6 61.2 94.0 69.7 93.5 72.0 C92.9 74.2 90.4 73.6 89.5 72.9 C88.6 72.1 88.3 69.5 88.0 67.4 C87.7 65.3 86.7 61.5 87.5 60.1Z" fill="#10e6a0"/>
<path d="M55.3 68.3 C55.3 66.9 55.9 65.1 57.1 64.1 C58.3 63.1 60.7 62.3 62.6 62.3 C64.4 62.3 66.7 63.1 68.0 64.1 C69.3 65.1 70.2 66.9 70.2 68.3 C70.2 69.8 69.3 71.8 68.0 72.9 C66.7 73.9 64.4 74.7 62.6 74.7 C60.7 74.7 58.3 73.9 57.1 72.9 C55.9 71.8 55.3 69.8 55.3 68.3Z" fill="#1a8cf5"/>
<path d="M15.3 13.8 C18.9 11.9 23.8 11.4 26.2 12.5 C28.6 13.6 29.3 17.8 29.5 20.1 C29.6 22.5 27.9 24.8 27.1 26.5 C26.3 28.2 25.7 29.0 24.4 30.1 C23.0 31.3 21.6 32.8 18.9 33.2 C16.2 33.7 10.4 34.4 8.0 32.9 C5.6 31.3 3.2 27.0 4.4 23.8 C5.6 20.6 11.6 15.7 15.3 13.8Z" fill="#1a8cf5"/>
<path d="M14.4 16.9 C16.9 15.7 19.7 15.7 21.1 16.5 C22.5 17.3 22.7 20.1 22.6 22.0 C22.4 23.8 21.6 26.4 20.4 27.8 C19.2 29.2 17.5 29.8 15.3 30.3 C13.1 30.9 8.7 32.1 7.1 31.0 C5.5 30.0 4.6 26.1 5.8 23.8 C7.0 21.4 11.8 18.1 14.4 16.9Z" fill="#3f4fc8"/>
<path d="M4.6 30.1 L5.5 27.2 L9.0 25.0 L10.6 19.2 L12.6 17.0 L16.9 18.5 L19.8 20.0 L20.3 23.6 L19.2 26.5 L14.7 28.0 L10.6 28.7 L6.7 29.4Z" fill="#30123b"/>
<path d="M34.9 51.0 C35.7 50.2 38.3 50.5 39.8 51.4 C41.3 52.3 43.2 55.0 44.0 56.5 C44.8 58.0 45.4 59.5 44.7 60.1 C44.0 60.8 41.5 61.1 39.8 60.5 C38.2 59.9 35.7 58.1 34.9 56.5 C34.1 54.9 34.1 51.9 34.9 51.0Z" fill="#1a8cf5"/>
<path d="M34.2 54.3 C34.4 54.0 34.9 53.4 36.0 54.0 C37.2 54.5 40.4 56.7 41.1 57.6 C41.8 58.5 40.9 59.0 40.4 59.2 C39.9 59.4 39.2 59.2 38.2 58.7 C37.2 58.1 35.2 56.7 34.6 56.0 C33.9 55.2 33.9 54.7 34.2 54.3Z" fill="#30123b"/>
</g>
<path d="M0.3 21.3 L3.1 23.7 L5.8 24.4 L8.0 25.9" fill="none" stroke="#3a1030" stroke-width="0.7"/>
<path d="M4.9 31.3 L6.2 28.6 L7.6 27.3" fill="none" stroke="#3a1030" stroke-width="0.7"/>
<path d="M2.2 24.1 L4.3 21.9 L7.2 24.1" fill="none" stroke="#3a1030" stroke-width="0.6"/>
<path d="M28.7 41.0 L33.1 41.5" fill="none" stroke="#3a1030" stroke-width="0.6"/>
</g>
<rect x="0" y="0" width="93.9" height="81.0" fill="none" stroke="#484848" stroke-width="0.6"/>
<path d="M0 0.6h-1.3 M93.9 0.6h1.3 M0 4.0h-2.6 M93.9 4.0h2.6 M0 7.4h-1.3 M93.9 7.4h1.3 M0 10.9h-1.3 M93.9 10.9h1.3 M0 14.3h-1.3 M93.9 14.3h1.3 M0 17.8h-1.3 M93.9 17.8h1.3 M0 21.2h-2.6 M93.9 21.2h2.6 M0 24.6h-1.3 M93.9 24.6h1.3 M0 28.1h-1.3 M93.9 28.1h1.3 M0 31.5h-1.3 M93.9 31.5h1.3 M0 35.0h-1.3 M93.9 35.0h1.3 M0 38.4h-2.6 M93.9 38.4h2.6 M0 41.8h-1.3 M93.9 41.8h1.3 M0 45.3h-1.3 M93.9 45.3h1.3 M0 48.7h-1.3 M93.9 48.7h1.3 M0 52.2h-1.3 M93.9 52.2h1.3 M0 55.6h-2.6 M93.9 55.6h2.6 M0 59.0h-1.3 M93.9 59.0h1.3 M0 62.5h-1.3 M93.9 62.5h1.3 M0 65.9h-1.3 M93.9 65.9h1.3 M0 69.4h-1.3 M93.9 69.4h1.3 M0 72.8h-2.6 M93.9 72.8h2.6 M0 76.2h-1.3 M93.9 76.2h1.3 M0 79.7h-1.3 M93.9 79.7h1.3 M3.9 0v-1.3 M3.9 81.0v1.3 M8.2 0v-2.6 M8.2 81.0v2.6 M12.5 0v-1.3 M12.5 81.0v1.3 M16.8 0v-1.3 M16.8 81.0v1.3 M21.1 0v-1.3 M21.1 81.0v1.3 M25.4 0v-1.3 M25.4 81.0v1.3 M29.7 0v-1.3 M29.7 81.0v1.3 M34.0 0v-1.3 M34.0 81.0v1.3 M38.3 0v-1.3 M38.3 81.0v1.3 M42.6 0v-1.3 M42.6 81.0v1.3 M46.9 0v-1.3 M46.9 81.0v1.3 M51.2 0v-2.6 M51.2 81.0v2.6 M55.5 0v-1.3 M55.5 81.0v1.3 M59.8 0v-1.3 M59.8 81.0v1.3 M64.1 0v-1.3 M64.1 81.0v1.3 M68.4 0v-1.3 M68.4 81.0v1.3 M72.7 0v-1.3 M72.7 81.0v1.3 M77.0 0v-1.3 M77.0 81.0v1.3 M81.3 0v-1.3 M81.3 81.0v1.3 M85.6 0v-1.3 M85.6 81.0v1.3 M89.9 0v-1.3 M89.9 81.0v1.3 M94.2 0v-2.6 M94.2 81.0v2.6" stroke="#222" stroke-width="0.6" fill="none"/>
<text x="89.8" y="12.7" font-size="10" text-anchor="end" font-weight="normal" >b3</text>
</g>
<g transform="translate(379.2 123.5)">
<g clip-path="url(#pc)">
<rect x="0" y="0" width="93.9" height="81.0" fill="#e8b080"/>
<path d="M46.5 -2.0 L46.5 -0.5 L54.5 5.0 L65.0 13.2 L74.0 22.6 L81.6 32.6 L87.0 42.0 L90.0 48.6 L92.8 55.0 L96.0 58.0 L96.0 -2.0Z" fill="#fff"/>
<g clip-path="url(#wm)">
<rect x="-2" y="-2" width="100" height="86" fill="#0cf43c"/>
<path d="M35.9 1.0 C35.3 2.9 32.6 6.7 32.3 9.2 C32.0 11.8 32.7 14.4 34.1 16.5 C35.4 18.6 37.9 20.7 40.4 22.0 C43.0 23.2 46.5 23.5 49.5 23.8 C52.6 24.1 55.6 23.0 58.6 23.8 C61.6 24.5 65.0 26.5 67.7 28.3 C70.4 30.1 72.7 32.4 75.0 34.7 C77.3 37.0 79.2 39.5 81.3 42.0 C83.5 44.4 85.3 47.1 87.7 49.2 C90.1 51.3 94.5 63.2 95.9 54.7 C97.3 46.2 105.9 7.7 95.9 -1.7 C85.9 -11.1 45.9 -2.1 35.9 -1.7 C25.9 -1.2 36.5 -0.8 35.9 1.0Z" fill="#a4f40c"/>
<path d="M32.3 37.4 C38.5 37.7 34.2 37.9 35.9 39.2 C37.6 40.6 40.3 43.3 42.3 45.6 C44.2 47.9 45.6 50.6 47.7 52.9 C49.8 55.1 52.3 57.6 55.0 59.2 C57.7 60.9 61.0 62.0 64.1 62.9 C67.1 63.8 70.1 64.4 73.2 64.7 C76.2 65.0 79.8 65.0 82.3 64.7 C84.7 64.4 86.3 63.8 87.7 62.9 C89.1 62.0 89.5 59.7 90.4 59.2 C91.3 58.8 92.7 56.3 93.2 60.1 C93.6 63.9 108.9 78.3 93.2 82.0 C77.4 85.6 14.4 89.4 -1.4 82.0 C-17.1 74.5 -7.0 44.8 -1.4 37.4 C4.2 30.0 26.0 37.1 32.3 37.4Z" fill="#10e6a0"/>
<path d="M86.8 68.3 C87.6 67.2 91.3 66.5 92.3 67.4 C93.3 68.3 93.6 72.6 92.8 73.8 C92.0 74.9 88.7 75.2 87.7 74.3 C86.7 73.4 86.0 69.5 86.8 68.3Z" fill="#0cf43c"/>
<path d="M9.2 16.9 C10.9 15.8 13.3 16.7 15.0 17.6 C16.6 18.4 18.0 20.4 19.0 22.0 C20.0 23.5 21.1 25.6 20.8 27.0 C20.5 28.5 18.9 29.8 17.2 30.7 C15.4 31.6 12.4 32.4 10.4 32.5 C8.5 32.6 6.5 32.9 5.5 31.4 C4.5 30.0 3.8 26.2 4.4 23.8 C5.0 21.3 7.4 17.9 9.2 16.9Z" fill="#10e6a0"/>
<path d="M10.4 21.6 C12.0 20.7 13.7 21.2 15.0 21.6 C16.2 22.0 17.5 23.3 17.9 24.1 C18.3 25.0 18.0 26.0 17.2 26.7 C16.3 27.4 14.4 28.0 12.8 28.5 C11.2 29.0 8.6 30.3 7.3 30.0 C6.1 29.7 5.0 28.1 5.5 26.7 C6.0 25.3 8.9 22.4 10.4 21.6Z" fill="#1cc6e2"/>
<path d="M8.1 24.5 C9.3 23.3 12.0 23.2 13.5 23.0 C15.0 22.9 16.5 23.3 17.2 23.8 C17.8 24.3 18.0 25.3 17.3 26.0 C16.7 26.6 14.8 27.1 13.5 27.6 C12.2 28.1 10.8 28.5 9.5 28.9 C8.3 29.3 6.1 30.7 5.9 30.0 C5.6 29.2 6.8 25.7 8.1 24.5Z" fill="#1a8cf5"/>
<path d="M4.8 28.7 C5.3 28.2 6.7 27.3 8.1 26.7 C9.4 26.0 11.5 25.1 12.8 24.7 C14.1 24.3 15.2 24.2 15.7 24.3 C16.3 24.4 16.5 24.9 16.1 25.2 C15.6 25.6 14.3 25.9 13.2 26.3 C12.0 26.8 10.4 27.3 9.2 28.0 C8.0 28.6 6.6 29.8 5.9 30.1 C5.2 30.4 5.2 30.0 5.0 29.8 C4.8 29.5 4.3 29.2 4.8 28.7Z" fill="#30123b"/>
<path d="M35.3 50.7 C36.1 49.9 37.8 50.3 39.0 51.0 C40.2 51.8 41.7 53.7 42.6 55.0 C43.5 56.4 44.6 58.3 44.4 59.2 C44.3 60.1 43.1 60.5 41.9 60.5 C40.7 60.5 38.4 60.0 37.2 59.2 C36.0 58.4 34.9 57.0 34.6 55.6 C34.3 54.2 34.6 51.4 35.3 50.7Z" fill="#10e6a0"/>
<path d="M36.1 53.2 C36.5 52.7 37.8 52.9 38.6 53.4 C39.4 53.9 40.5 55.3 41.0 56.1 C41.5 57.0 42.0 58.2 41.7 58.7 C41.5 59.2 40.5 59.4 39.5 59.0 C38.6 58.7 36.5 57.5 35.9 56.5 C35.3 55.5 35.6 53.7 36.1 53.2Z" fill="#1cc6e2"/>
<path d="M34.1 54.5 C34.3 54.2 34.5 53.7 35.5 54.1 C36.5 54.6 39.4 56.6 40.1 57.4 C40.7 58.2 39.9 58.7 39.5 58.9 C39.2 59.0 38.7 58.8 37.9 58.3 C37.0 57.8 35.1 56.6 34.4 56.0 C33.8 55.3 33.9 54.8 34.1 54.5Z" fill="#30123b"/>
</g>
<path d="M0.3 21.3 L3.1 23.7 L5.8 24.4 L8.0 25.9" fill="none" stroke="#3a1030" stroke-width="0.7"/>
<path d="M4.9 31.3 L6.2 28.6 L7.6 27.3" fill="none" stroke="#3a1030" stroke-width="0.7"/>
<path d="M2.2 24.1 L4.3 21.9 L7.2 24.1" fill="none" stroke="#3a1030" stroke-width="0.6"/>
<path d="M28.7 41.0 L33.1 41.5" fill="none" stroke="#3a1030" stroke-width="0.6"/>
</g>
<rect x="0" y="0" width="93.9" height="81.0" fill="none" stroke="#484848" stroke-width="0.6"/>
<path d="M0 0.6h-1.3 M93.9 0.6h1.3 M0 4.0h-2.6 M93.9 4.0h2.6 M0 7.4h-1.3 M93.9 7.4h1.3 M0 10.9h-1.3 M93.9 10.9h1.3 M0 14.3h-1.3 M93.9 14.3h1.3 M0 17.8h-1.3 M93.9 17.8h1.3 M0 21.2h-2.6 M93.9 21.2h2.6 M0 24.6h-1.3 M93.9 24.6h1.3 M0 28.1h-1.3 M93.9 28.1h1.3 M0 31.5h-1.3 M93.9 31.5h1.3 M0 35.0h-1.3 M93.9 35.0h1.3 M0 38.4h-2.6 M93.9 38.4h2.6 M0 41.8h-1.3 M93.9 41.8h1.3 M0 45.3h-1.3 M93.9 45.3h1.3 M0 48.7h-1.3 M93.9 48.7h1.3 M0 52.2h-1.3 M93.9 52.2h1.3 M0 55.6h-2.6 M93.9 55.6h2.6 M0 59.0h-1.3 M93.9 59.0h1.3 M0 62.5h-1.3 M93.9 62.5h1.3 M0 65.9h-1.3 M93.9 65.9h1.3 M0 69.4h-1.3 M93.9 69.4h1.3 M0 72.8h-2.6 M93.9 72.8h2.6 M0 76.2h-1.3 M93.9 76.2h1.3 M0 79.7h-1.3 M93.9 79.7h1.3 M3.9 0v-1.3 M3.9 81.0v1.3 M8.2 0v-2.6 M8.2 81.0v2.6 M12.5 0v-1.3 M12.5 81.0v1.3 M16.8 0v-1.3 M16.8 81.0v1.3 M21.1 0v-1.3 M21.1 81.0v1.3 M25.4 0v-1.3 M25.4 81.0v1.3 M29.7 0v-1.3 M29.7 81.0v1.3 M34.0 0v-1.3 M34.0 81.0v1.3 M38.3 0v-1.3 M38.3 81.0v1.3 M42.6 0v-1.3 M42.6 81.0v1.3 M46.9 0v-1.3 M46.9 81.0v1.3 M51.2 0v-2.6 M51.2 81.0v2.6 M55.5 0v-1.3 M55.5 81.0v1.3 M59.8 0v-1.3 M59.8 81.0v1.3 M64.1 0v-1.3 M64.1 81.0v1.3 M68.4 0v-1.3 M68.4 81.0v1.3 M72.7 0v-1.3 M72.7 81.0v1.3 M77.0 0v-1.3 M77.0 81.0v1.3 M81.3 0v-1.3 M81.3 81.0v1.3 M85.6 0v-1.3 M85.6 81.0v1.3 M89.9 0v-1.3 M89.9 81.0v1.3 M94.2 0v-2.6 M94.2 81.0v2.6" stroke="#222" stroke-width="0.6" fill="none"/>
<text x="89.8" y="12.7" font-size="10" text-anchor="end" font-weight="normal" >b4</text>
</g>
<g transform="translate(57.3 223.8)">
<g clip-path="url(#pc)">
<rect x="0" y="0" width="93.9" height="81.0" fill="#e8b080"/>
<path d="M46.5 -2.0 L46.5 -0.5 L54.5 5.0 L65.0 13.2 L74.0 22.6 L81.6 32.6 L87.0 42.0 L90.0 48.6 L92.8 55.0 L96.0 58.0 L96.0 -2.0Z" fill="#fff"/>
<g clip-path="url(#wm)">
<rect x="-2" y="-2" width="100" height="86" fill="#ffcc22"/>
<path d="M74.0 42.6 C73.7 41.4 78.4 39.7 80.3 38.4 C82.3 37.1 83.7 32.7 85.8 34.7 C87.9 36.8 92.6 48.5 93.1 50.7 C93.5 53.0 90.3 48.9 88.5 48.0 C86.7 47.2 84.6 46.6 82.2 45.7 C79.7 44.7 74.3 43.8 74.0 42.6Z" fill="#ff9018"/>
<path d="M51.2 3.5 C51.4 3.3 53.4 5.0 54.9 6.2 C56.4 7.4 59.7 9.9 60.3 10.7 C61.0 11.6 59.9 11.7 58.9 11.1 C57.8 10.6 55.2 8.7 54.0 7.5 C52.7 6.2 51.1 3.7 51.2 3.5Z" fill="#ff9018"/>
<path d="M4.0 25.3 C5.9 24.2 13.7 24.1 15.8 24.4 C17.9 24.7 17.1 26.2 16.3 27.1 C15.6 28.0 13.2 29.2 11.2 29.8 C9.2 30.4 5.5 31.5 4.3 30.7 C3.1 30.0 2.1 26.4 4.0 25.3Z" fill="#a4f40c"/>
<path d="M4.3 27.5 C5.3 26.8 9.0 26.2 10.3 26.2 C11.6 26.2 12.3 27.0 12.2 27.5 C12.0 28.0 10.7 28.9 9.4 29.3 C8.2 29.7 5.5 30.3 4.7 30.0 C3.9 29.7 3.4 28.1 4.3 27.5Z" fill="#0cf43c"/>
<path d="M35.6 51.5 C36.3 50.8 39.0 51.0 40.0 51.5 C40.9 52.0 41.4 53.5 41.4 54.4 C41.4 55.2 40.9 56.4 40.0 56.6 C39.1 56.7 36.7 56.3 36.0 55.5 C35.2 54.6 34.9 52.1 35.6 51.5Z" fill="#a4f40c"/>
</g>
</g>
<rect x="0" y="0" width="93.9" height="81.0" fill="none" stroke="#484848" stroke-width="0.6"/>
<path d="M0 0.6h-1.3 M93.9 0.6h1.3 M0 4.0h-2.6 M93.9 4.0h2.6 M0 7.4h-1.3 M93.9 7.4h1.3 M0 10.9h-1.3 M93.9 10.9h1.3 M0 14.3h-1.3 M93.9 14.3h1.3 M0 17.8h-1.3 M93.9 17.8h1.3 M0 21.2h-2.6 M93.9 21.2h2.6 M0 24.6h-1.3 M93.9 24.6h1.3 M0 28.1h-1.3 M93.9 28.1h1.3 M0 31.5h-1.3 M93.9 31.5h1.3 M0 35.0h-1.3 M93.9 35.0h1.3 M0 38.4h-2.6 M93.9 38.4h2.6 M0 41.8h-1.3 M93.9 41.8h1.3 M0 45.3h-1.3 M93.9 45.3h1.3 M0 48.7h-1.3 M93.9 48.7h1.3 M0 52.2h-1.3 M93.9 52.2h1.3 M0 55.6h-2.6 M93.9 55.6h2.6 M0 59.0h-1.3 M93.9 59.0h1.3 M0 62.5h-1.3 M93.9 62.5h1.3 M0 65.9h-1.3 M93.9 65.9h1.3 M0 69.4h-1.3 M93.9 69.4h1.3 M0 72.8h-2.6 M93.9 72.8h2.6 M0 76.2h-1.3 M93.9 76.2h1.3 M0 79.7h-1.3 M93.9 79.7h1.3 M3.9 0v-1.3 M3.9 81.0v1.3 M8.2 0v-2.6 M8.2 81.0v2.6 M12.5 0v-1.3 M12.5 81.0v1.3 M16.8 0v-1.3 M16.8 81.0v1.3 M21.1 0v-1.3 M21.1 81.0v1.3 M25.4 0v-1.3 M25.4 81.0v1.3 M29.7 0v-1.3 M29.7 81.0v1.3 M34.0 0v-1.3 M34.0 81.0v1.3 M38.3 0v-1.3 M38.3 81.0v1.3 M42.6 0v-1.3 M42.6 81.0v1.3 M46.9 0v-1.3 M46.9 81.0v1.3 M51.2 0v-2.6 M51.2 81.0v2.6 M55.5 0v-1.3 M55.5 81.0v1.3 M59.8 0v-1.3 M59.8 81.0v1.3 M64.1 0v-1.3 M64.1 81.0v1.3 M68.4 0v-1.3 M68.4 81.0v1.3 M72.7 0v-1.3 M72.7 81.0v1.3 M77.0 0v-1.3 M77.0 81.0v1.3 M81.3 0v-1.3 M81.3 81.0v1.3 M85.6 0v-1.3 M85.6 81.0v1.3 M89.9 0v-1.3 M89.9 81.0v1.3 M94.2 0v-2.6 M94.2 81.0v2.6" stroke="#222" stroke-width="0.6" fill="none"/>
<text x="89.8" y="12.7" font-size="10" text-anchor="end" font-weight="normal" >c1</text>
</g>
<g transform="translate(164.6 223.8)">
<g clip-path="url(#pc)">
<rect x="0" y="0" width="93.9" height="81.0" fill="#e8b080"/>
<path d="M46.5 -2.0 L46.5 -0.5 L54.5 5.0 L65.0 13.2 L74.0 22.6 L81.6 32.6 L87.0 42.0 L90.0 48.6 L92.8 55.0 L96.0 58.0 L96.0 -2.0Z" fill="#fff"/>
<g clip-path="url(#wm)">
<rect x="-2" y="-2" width="100" height="86" fill="#ff9018"/>
<path d="M50.1 23.5 C51.5 22.4 54.7 21.7 57.4 20.7 C60.1 19.8 64.1 17.9 66.5 18.0 C68.9 18.2 71.2 19.8 71.9 21.7 C72.7 23.5 72.2 26.8 71.0 28.9 C69.8 31.0 66.9 33.3 64.7 34.4 C62.4 35.4 59.5 35.7 57.4 35.3 C55.3 34.8 53.3 33.0 51.9 31.7 C50.6 30.3 49.5 28.5 49.2 27.1 C48.9 25.7 48.8 24.5 50.1 23.5Z" fill="#ffcc22"/>
<path d="M31.9 38.0 C38.9 38.9 38.9 41.7 41.0 43.5 C43.2 45.3 42.9 47.1 44.7 48.9 C46.5 50.7 49.2 53.3 51.9 54.4 C54.7 55.4 58.0 55.4 61.0 55.3 C64.1 55.1 67.4 54.2 70.1 53.5 C72.9 52.7 75.0 51.0 77.4 50.7 C79.8 50.4 81.5 50.9 84.7 51.7 C87.9 52.4 94.5 50.3 96.5 55.3 C98.5 60.3 112.7 77.3 96.5 81.7 C80.3 86.0 15.4 88.9 -0.8 81.7 C-17.0 74.4 -6.2 45.3 -0.8 38.0 C4.7 30.7 25.0 37.1 31.9 38.0Z" fill="#ff560c"/>
<path d="M49.4 66.7 C50.6 66.0 54.6 68.2 57.4 68.9 C60.2 69.7 63.5 71.0 66.5 71.1 C69.5 71.3 72.9 70.3 75.6 69.8 C78.3 69.4 80.9 68.4 82.9 68.6 C84.9 68.8 87.4 69.6 87.6 71.1 C87.7 72.6 86.7 75.9 83.8 77.5 C80.9 79.0 74.5 80.5 70.1 80.6 C65.7 80.6 60.7 79.0 57.4 77.8 C54.1 76.6 51.8 75.1 50.5 73.3 C49.2 71.4 48.2 67.5 49.4 66.7Z" fill="#dc2410"/>
<path d="M5.0 26.0 C6.5 25.0 12.2 24.4 14.1 24.6 C16.0 24.7 16.6 26.2 16.3 27.1 C16.0 28.0 14.1 29.4 12.3 30.0 C10.5 30.6 6.6 31.4 5.4 30.7 C4.2 30.1 3.6 27.0 5.0 26.0Z" fill="#ffcc22"/>
<path d="M4.7 27.5 C5.6 26.7 9.2 26.0 10.5 26.0 C11.8 26.0 12.9 26.9 12.7 27.5 C12.4 28.1 10.3 29.2 9.0 29.7 C7.8 30.1 5.8 30.7 5.0 30.4 C4.3 30.0 3.8 28.2 4.7 27.5Z" fill="#a4f40c"/>
<path d="M35.6 54.0 C36.0 53.5 38.0 53.7 38.9 54.0 C39.7 54.4 40.4 55.5 40.5 56.2 C40.6 56.9 40.1 58.1 39.4 58.2 C38.7 58.3 36.9 57.6 36.3 56.9 C35.7 56.2 35.2 54.5 35.6 54.0Z" fill="#ffcc22"/>
</g>
</g>
<rect x="0" y="0" width="93.9" height="81.0" fill="none" stroke="#484848" stroke-width="0.6"/>
<path d="M0 0.6h-1.3 M93.9 0.6h1.3 M0 4.0h-2.6 M93.9 4.0h2.6 M0 7.4h-1.3 M93.9 7.4h1.3 M0 10.9h-1.3 M93.9 10.9h1.3 M0 14.3h-1.3 M93.9 14.3h1.3 M0 17.8h-1.3 M93.9 17.8h1.3 M0 21.2h-2.6 M93.9 21.2h2.6 M0 24.6h-1.3 M93.9 24.6h1.3 M0 28.1h-1.3 M93.9 28.1h1.3 M0 31.5h-1.3 M93.9 31.5h1.3 M0 35.0h-1.3 M93.9 35.0h1.3 M0 38.4h-2.6 M93.9 38.4h2.6 M0 41.8h-1.3 M93.9 41.8h1.3 M0 45.3h-1.3 M93.9 45.3h1.3 M0 48.7h-1.3 M93.9 48.7h1.3 M0 52.2h-1.3 M93.9 52.2h1.3 M0 55.6h-2.6 M93.9 55.6h2.6 M0 59.0h-1.3 M93.9 59.0h1.3 M0 62.5h-1.3 M93.9 62.5h1.3 M0 65.9h-1.3 M93.9 65.9h1.3 M0 69.4h-1.3 M93.9 69.4h1.3 M0 72.8h-2.6 M93.9 72.8h2.6 M0 76.2h-1.3 M93.9 76.2h1.3 M0 79.7h-1.3 M93.9 79.7h1.3 M3.9 0v-1.3 M3.9 81.0v1.3 M8.2 0v-2.6 M8.2 81.0v2.6 M12.5 0v-1.3 M12.5 81.0v1.3 M16.8 0v-1.3 M16.8 81.0v1.3 M21.1 0v-1.3 M21.1 81.0v1.3 M25.4 0v-1.3 M25.4 81.0v1.3 M29.7 0v-1.3 M29.7 81.0v1.3 M34.0 0v-1.3 M34.0 81.0v1.3 M38.3 0v-1.3 M38.3 81.0v1.3 M42.6 0v-1.3 M42.6 81.0v1.3 M46.9 0v-1.3 M46.9 81.0v1.3 M51.2 0v-2.6 M51.2 81.0v2.6 M55.5 0v-1.3 M55.5 81.0v1.3 M59.8 0v-1.3 M59.8 81.0v1.3 M64.1 0v-1.3 M64.1 81.0v1.3 M68.4 0v-1.3 M68.4 81.0v1.3 M72.7 0v-1.3 M72.7 81.0v1.3 M77.0 0v-1.3 M77.0 81.0v1.3 M81.3 0v-1.3 M81.3 81.0v1.3 M85.6 0v-1.3 M85.6 81.0v1.3 M89.9 0v-1.3 M89.9 81.0v1.3 M94.2 0v-2.6 M94.2 81.0v2.6" stroke="#222" stroke-width="0.6" fill="none"/>
<text x="89.8" y="12.7" font-size="10" text-anchor="end" font-weight="normal" >c2</text>
</g>
<g transform="translate(271.9 223.8)">
<g clip-path="url(#pc)">
<rect x="0" y="0" width="93.9" height="81.0" fill="#e8b080"/>
<path d="M46.5 -2.0 L46.5 -0.5 L54.5 5.0 L65.0 13.2 L74.0 22.6 L81.6 32.6 L87.0 42.0 L90.0 48.6 L92.8 55.0 L96.0 58.0 L96.0 -2.0Z" fill="#fff"/>
<g clip-path="url(#wm)">
<rect x="-2" y="-2" width="100" height="86" fill="#ffcc22"/>
<path d="M14.4 33.5 C18.0 32.9 18.8 30.0 20.7 29.8 C22.7 29.7 24.4 31.0 26.2 32.6 C28.0 34.1 29.5 37.0 31.6 38.9 C33.8 40.9 36.2 43.3 38.9 44.4 C41.6 45.4 45.0 45.6 48.0 45.3 C51.0 45.0 54.1 43.5 57.1 42.6 C60.1 41.7 63.5 40.1 66.2 39.8 C68.9 39.5 71.3 40.0 73.5 40.7 C75.6 41.5 77.1 43.0 78.9 44.4 C80.7 45.7 81.5 47.1 84.4 48.9 C87.3 50.7 94.2 63.8 96.2 55.3 C98.2 46.8 112.4 7.6 96.2 -2.0 C80.0 -11.5 15.1 -7.9 -1.1 -2.0 C-17.3 3.9 -3.7 27.6 -1.1 33.5 C1.5 39.4 10.7 34.1 14.4 33.5Z" fill="#a4f40c"/>
<path d="M39.8 3.5 C38.8 5.0 35.1 5.7 33.5 7.1 C31.8 8.5 30.6 9.8 29.8 11.7 C29.1 13.5 28.6 15.7 28.9 18.0 C29.2 20.3 30.3 23.0 31.6 25.3 C33.0 27.6 34.7 30.0 37.1 31.7 C39.5 33.3 42.9 34.7 46.2 35.3 C49.5 35.9 53.8 35.7 57.1 35.3 C60.4 34.8 63.8 32.9 66.2 32.6 C68.6 32.3 69.5 32.4 71.6 33.5 C73.8 34.5 76.5 36.8 78.9 38.9 C81.3 41.0 83.3 43.6 86.2 46.2 C89.1 48.8 94.5 62.4 96.2 54.4 C97.9 46.4 105.6 7.4 96.2 -2.0 C86.8 -11.4 49.2 -2.9 39.8 -2.0 C30.4 -1.1 40.9 2.0 39.8 3.5Z" fill="#0cf43c"/>
<path d="M46.2 3.5 C45.0 5.3 40.6 7.1 38.9 8.9 C37.3 10.7 36.3 12.4 36.2 14.4 C36.0 16.4 36.6 18.9 38.0 20.7 C39.4 22.6 41.8 24.4 44.4 25.3 C46.9 26.2 50.4 26.2 53.5 26.2 C56.5 26.2 59.8 25.1 62.6 25.3 C65.3 25.4 67.4 25.9 69.8 27.1 C72.3 28.3 74.8 30.4 77.1 32.6 C79.4 34.7 80.3 36.8 83.5 39.8 C86.6 42.9 94.1 57.7 96.2 50.7 C98.3 43.8 104.5 6.8 96.2 -2.0 C87.9 -10.8 54.5 -2.9 46.2 -2.0 C37.9 -1.1 47.4 1.7 46.2 3.5Z" fill="#10e6a0"/>
<path d="M52.6 10.4 C52.9 9.2 55.7 8.6 57.1 8.6 C58.5 8.5 59.6 8.9 61.1 10.0 C62.6 11.1 64.7 13.6 66.2 15.3 C67.7 17.0 70.0 19.2 70.2 20.2 C70.3 21.2 68.7 21.5 67.1 21.3 C65.5 21.1 62.7 20.1 60.7 19.1 C58.8 18.1 56.6 16.9 55.3 15.5 C53.9 14.0 52.3 11.5 52.6 10.4Z" fill="#1cc6e2"/>
<path d="M45.3 58.0 C46.0 53.6 47.9 56.0 49.8 55.3 C51.8 54.5 54.4 54.2 57.1 53.5 C59.8 52.7 63.2 51.2 66.2 50.7 C69.2 50.3 73.2 51.0 75.3 50.7 C77.4 50.4 77.7 49.1 78.9 48.9 C80.1 48.8 79.7 49.5 82.6 49.8 C85.4 50.1 93.9 45.4 96.2 50.7 C98.5 56.0 112.4 76.5 96.2 81.7 C80.0 86.8 7.4 81.7 -1.1 81.7 C-9.6 81.7 37.6 85.6 45.3 81.7 C53.0 77.7 44.5 62.4 45.3 58.0Z" fill="#ff9018"/>
<path d="M49.8 65.3 C50.9 64.2 52.6 63.2 55.3 62.6 C58.0 62.0 62.6 62.1 66.2 61.7 C69.8 61.2 74.4 59.8 77.1 59.8 C79.8 59.8 81.3 60.4 82.6 61.7 C83.8 62.9 84.7 65.5 84.7 67.1 C84.7 68.7 84.4 70.1 82.6 71.1 C80.7 72.1 77.1 72.5 73.5 72.9 C69.8 73.4 64.4 73.8 60.7 73.8 C57.1 73.8 53.6 73.7 51.6 72.9 C49.7 72.1 49.2 70.2 48.9 68.9 C48.6 67.7 48.8 66.4 49.8 65.3Z" fill="#ff560c"/>
<path d="M78.9 49.5 C79.2 48.7 82.9 49.3 84.4 50.4 C85.8 51.5 87.3 54.7 87.5 56.2 C87.7 57.7 86.5 59.5 85.6 59.3 C84.8 59.0 83.7 56.4 82.6 54.7 C81.4 53.1 78.6 50.2 78.9 49.5Z" fill="#ff560c"/>
<path d="M4.0 27.5 C5.0 26.7 9.0 26.3 10.2 26.4 C11.4 26.5 11.6 27.6 11.3 28.2 C10.9 28.8 9.2 29.6 8.0 30.0 C6.9 30.4 5.0 31.2 4.4 30.7 C3.7 30.3 3.0 28.2 4.0 27.5Z" fill="#0cf43c"/>
<path d="M11.6 28.9 C12.2 28.3 14.9 28.3 16.2 28.6 C17.5 28.9 19.1 30.0 19.3 30.7 C19.5 31.5 18.5 32.7 17.5 32.9 C16.4 33.2 14.1 32.9 13.1 32.2 C12.1 31.5 11.1 29.5 11.6 28.9Z" fill="#ff9018"/>
<path d="M10.7 17.7 C11.1 17.2 12.6 17.2 13.1 17.7 C13.6 18.1 13.8 19.8 13.5 20.2 C13.1 20.6 11.4 20.6 10.9 20.2 C10.5 19.8 10.4 18.1 10.7 17.7Z" fill="#0cf43c"/>
</g>
</g>
<rect x="0" y="0" width="93.9" height="81.0" fill="none" stroke="#484848" stroke-width="0.6"/>
<path d="M0 0.6h-1.3 M93.9 0.6h1.3 M0 4.0h-2.6 M93.9 4.0h2.6 M0 7.4h-1.3 M93.9 7.4h1.3 M0 10.9h-1.3 M93.9 10.9h1.3 M0 14.3h-1.3 M93.9 14.3h1.3 M0 17.8h-1.3 M93.9 17.8h1.3 M0 21.2h-2.6 M93.9 21.2h2.6 M0 24.6h-1.3 M93.9 24.6h1.3 M0 28.1h-1.3 M93.9 28.1h1.3 M0 31.5h-1.3 M93.9 31.5h1.3 M0 35.0h-1.3 M93.9 35.0h1.3 M0 38.4h-2.6 M93.9 38.4h2.6 M0 41.8h-1.3 M93.9 41.8h1.3 M0 45.3h-1.3 M93.9 45.3h1.3 M0 48.7h-1.3 M93.9 48.7h1.3 M0 52.2h-1.3 M93.9 52.2h1.3 M0 55.6h-2.6 M93.9 55.6h2.6 M0 59.0h-1.3 M93.9 59.0h1.3 M0 62.5h-1.3 M93.9 62.5h1.3 M0 65.9h-1.3 M93.9 65.9h1.3 M0 69.4h-1.3 M93.9 69.4h1.3 M0 72.8h-2.6 M93.9 72.8h2.6 M0 76.2h-1.3 M93.9 76.2h1.3 M0 79.7h-1.3 M93.9 79.7h1.3 M3.9 0v-1.3 M3.9 81.0v1.3 M8.2 0v-2.6 M8.2 81.0v2.6 M12.5 0v-1.3 M12.5 81.0v1.3 M16.8 0v-1.3 M16.8 81.0v1.3 M21.1 0v-1.3 M21.1 81.0v1.3 M25.4 0v-1.3 M25.4 81.0v1.3 M29.7 0v-1.3 M29.7 81.0v1.3 M34.0 0v-1.3 M34.0 81.0v1.3 M38.3 0v-1.3 M38.3 81.0v1.3 M42.6 0v-1.3 M42.6 81.0v1.3 M46.9 0v-1.3 M46.9 81.0v1.3 M51.2 0v-2.6 M51.2 81.0v2.6 M55.5 0v-1.3 M55.5 81.0v1.3 M59.8 0v-1.3 M59.8 81.0v1.3 M64.1 0v-1.3 M64.1 81.0v1.3 M68.4 0v-1.3 M68.4 81.0v1.3 M72.7 0v-1.3 M72.7 81.0v1.3 M77.0 0v-1.3 M77.0 81.0v1.3 M81.3 0v-1.3 M81.3 81.0v1.3 M85.6 0v-1.3 M85.6 81.0v1.3 M89.9 0v-1.3 M89.9 81.0v1.3 M94.2 0v-2.6 M94.2 81.0v2.6" stroke="#222" stroke-width="0.6" fill="none"/>
<text x="89.8" y="12.7" font-size="10" text-anchor="end" font-weight="normal" >c3</text>
</g>
<g transform="translate(379.2 223.8)">
<g clip-path="url(#pc)">
<rect x="0" y="0" width="93.9" height="81.0" fill="#e8b080"/>
<path d="M46.5 -2.0 L46.5 -0.5 L54.5 5.0 L65.0 13.2 L74.0 22.6 L81.6 32.6 L87.0 42.0 L90.0 48.6 L92.8 55.0 L96.0 58.0 L96.0 -2.0Z" fill="#fff"/>
<g clip-path="url(#wm)">
<rect x="-2" y="-2" width="100" height="86" fill="#0cf43c"/>
<path d="M13.2 17.1 C14.4 21.4 18.0 22.0 20.4 23.5 C22.9 25.0 25.3 25.4 27.7 26.2 C30.1 27.0 32.3 27.6 35.0 28.0 C37.7 28.5 40.7 28.8 44.1 28.9 C47.4 29.1 51.6 28.8 55.0 28.9 C58.3 29.1 61.3 29.2 64.1 29.8 C66.8 30.4 69.2 31.4 71.3 32.6 C73.5 33.8 75.0 35.3 76.8 37.1 C78.6 38.9 79.1 40.3 82.3 43.5 C85.4 46.7 93.6 63.8 95.9 56.2 C98.2 48.6 109.7 7.7 95.9 -2.0 C82.1 -11.7 27.0 -5.2 13.2 -2.0 C-0.6 1.2 12.0 12.9 13.2 17.1Z" fill="#10e6a0"/>
<path d="M35.9 49.8 C37.0 43.9 40.1 47.1 42.3 46.2 C44.4 45.3 46.8 44.4 48.6 44.4 C50.4 44.4 51.8 45.1 53.2 46.2 C54.5 47.3 55.3 49.4 56.8 50.7 C58.3 52.1 60.1 53.9 62.3 54.4 C64.4 54.8 67.4 54.1 69.5 53.5 C71.6 52.9 73.2 51.3 75.0 50.7 C76.8 50.2 77.0 50.0 80.4 50.0 C83.9 50.0 93.3 45.5 95.9 50.7 C98.5 56.0 112.1 76.5 95.9 81.7 C79.7 86.8 8.6 81.7 -1.4 81.7 C-11.4 81.7 29.7 87.0 35.9 81.7 C42.1 76.4 34.8 55.7 35.9 49.8Z" fill="#a4f40c"/>
<path d="M49.5 68.0 C50.0 67.5 51.3 69.2 53.2 69.8 C55.0 70.4 57.7 71.2 60.4 71.7 C63.2 72.1 66.5 72.6 69.5 72.6 C72.6 72.6 75.8 71.5 78.6 71.7 C81.4 71.8 85.6 72.5 86.3 73.5 C86.9 74.4 85.0 76.4 82.3 77.5 C79.5 78.5 73.8 79.8 69.5 79.8 C65.3 79.8 60.0 78.6 56.8 77.5 C53.6 76.3 51.6 74.5 50.4 72.9 C49.2 71.4 49.1 68.5 49.5 68.0Z" fill="#ffcc22"/>
<path d="M7.7 28.9 C9.1 28.3 14.8 27.9 16.4 28.2 C18.1 28.5 18.3 30.0 17.7 30.7 C17.2 31.5 14.8 32.3 13.2 32.6 C11.6 32.8 9.0 32.8 8.1 32.2 C7.2 31.6 6.3 29.6 7.7 28.9Z" fill="#a4f40c"/>
<path d="M4.4 27.5 C5.3 26.7 8.8 26.3 9.9 26.4 C11.0 26.5 11.3 27.6 11.0 28.2 C10.6 28.8 8.8 29.6 7.7 30.0 C6.6 30.4 5.0 31.2 4.4 30.7 C3.9 30.3 3.5 28.2 4.4 27.5Z" fill="#1a8cf5"/>
<path d="M34.3 54.0 C34.9 53.7 37.2 53.5 38.3 54.0 C39.3 54.5 40.5 56.3 40.4 56.9 C40.3 57.6 38.7 58.1 37.7 58.0 C36.7 57.9 35.2 56.9 34.6 56.2 C34.0 55.5 33.6 54.4 34.3 54.0Z" fill="#0cf43c"/>
</g>
</g>
<rect x="0" y="0" width="93.9" height="81.0" fill="none" stroke="#484848" stroke-width="0.6"/>
<path d="M0 0.6h-1.3 M93.9 0.6h1.3 M0 4.0h-2.6 M93.9 4.0h2.6 M0 7.4h-1.3 M93.9 7.4h1.3 M0 10.9h-1.3 M93.9 10.9h1.3 M0 14.3h-1.3 M93.9 14.3h1.3 M0 17.8h-1.3 M93.9 17.8h1.3 M0 21.2h-2.6 M93.9 21.2h2.6 M0 24.6h-1.3 M93.9 24.6h1.3 M0 28.1h-1.3 M93.9 28.1h1.3 M0 31.5h-1.3 M93.9 31.5h1.3 M0 35.0h-1.3 M93.9 35.0h1.3 M0 38.4h-2.6 M93.9 38.4h2.6 M0 41.8h-1.3 M93.9 41.8h1.3 M0 45.3h-1.3 M93.9 45.3h1.3 M0 48.7h-1.3 M93.9 48.7h1.3 M0 52.2h-1.3 M93.9 52.2h1.3 M0 55.6h-2.6 M93.9 55.6h2.6 M0 59.0h-1.3 M93.9 59.0h1.3 M0 62.5h-1.3 M93.9 62.5h1.3 M0 65.9h-1.3 M93.9 65.9h1.3 M0 69.4h-1.3 M93.9 69.4h1.3 M0 72.8h-2.6 M93.9 72.8h2.6 M0 76.2h-1.3 M93.9 76.2h1.3 M0 79.7h-1.3 M93.9 79.7h1.3 M3.9 0v-1.3 M3.9 81.0v1.3 M8.2 0v-2.6 M8.2 81.0v2.6 M12.5 0v-1.3 M12.5 81.0v1.3 M16.8 0v-1.3 M16.8 81.0v1.3 M21.1 0v-1.3 M21.1 81.0v1.3 M25.4 0v-1.3 M25.4 81.0v1.3 M29.7 0v-1.3 M29.7 81.0v1.3 M34.0 0v-1.3 M34.0 81.0v1.3 M38.3 0v-1.3 M38.3 81.0v1.3 M42.6 0v-1.3 M42.6 81.0v1.3 M46.9 0v-1.3 M46.9 81.0v1.3 M51.2 0v-2.6 M51.2 81.0v2.6 M55.5 0v-1.3 M55.5 81.0v1.3 M59.8 0v-1.3 M59.8 81.0v1.3 M64.1 0v-1.3 M64.1 81.0v1.3 M68.4 0v-1.3 M68.4 81.0v1.3 M72.7 0v-1.3 M72.7 81.0v1.3 M77.0 0v-1.3 M77.0 81.0v1.3 M81.3 0v-1.3 M81.3 81.0v1.3 M85.6 0v-1.3 M85.6 81.0v1.3 M89.9 0v-1.3 M89.9 81.0v1.3 M94.2 0v-2.6 M94.2 81.0v2.6" stroke="#222" stroke-width="0.6" fill="none"/>
<text x="89.8" y="12.7" font-size="10" text-anchor="end" font-weight="normal" >c4</text>
</g>
<g transform="translate(57.3 324.1)">
<g clip-path="url(#pc)">
<rect x="0" y="0" width="93.9" height="81.0" fill="#e8b080"/>
<path d="M46.5 -2.0 L46.5 -0.5 L54.5 5.0 L65.0 13.2 L74.0 22.6 L81.6 32.6 L87.0 42.0 L90.0 48.6 L92.8 55.0 L96.0 58.0 L96.0 -2.0Z" fill="#fff"/>
<g clip-path="url(#wm)">
<rect x="-2" y="-2" width="100" height="86" fill="#10e6a0"/>
<path d="M69.8 28.1 C69.8 29.8 69.3 31.8 68.4 33.4 C67.5 34.9 66.0 36.3 64.5 37.2 C63.0 38.1 61.0 38.6 59.2 38.6 C57.5 38.6 55.5 38.1 54.0 37.2 C52.5 36.3 51.0 34.9 50.1 33.4 C49.2 31.8 48.7 29.8 48.7 28.1 C48.7 26.3 49.2 24.3 50.1 22.8 C51.0 21.3 52.5 19.8 54.0 18.9 C55.5 18.1 57.5 17.5 59.2 17.5 C61.0 17.5 63.0 18.1 64.5 18.9 C66.0 19.8 67.5 21.3 68.4 22.8 C69.3 24.3 69.8 26.3 69.8 28.1Z" fill="#0cf43c"/>
<path d="M55.8 36.8 L64.0 36.8 L63.1 43.2 L64.3 50.4 L73.1 52.3 L82.2 50.4 L95.8 52.3 L95.8 81.4 L37.6 81.4 L37.6 60.6 L54.2 59.9 L54.9 52.3 L56.0 49.0Z" fill="#0cf43c"/>
<path d="M78.2 43.7 C78.2 44.9 77.8 46.3 77.2 47.4 C76.6 48.4 75.6 49.4 74.5 50.0 C73.5 50.6 72.1 51.0 70.9 51.0 C69.7 51.0 68.3 50.6 67.2 50.0 C66.2 49.4 65.2 48.4 64.6 47.4 C64.0 46.3 63.6 44.9 63.6 43.7 C63.6 42.5 64.0 41.1 64.6 40.1 C65.2 39.0 66.2 38.0 67.2 37.4 C68.3 36.8 69.7 36.4 70.9 36.4 C72.1 36.4 73.5 36.8 74.5 37.4 C75.6 38.0 76.6 39.0 77.2 40.1 C77.8 41.1 78.2 42.5 78.2 43.7Z" fill="#10e6a0"/>
<path d="M41.5 -0.5 L37.1 2.8 L30.7 5.2 L25.1 7.2 L19.5 8.8 L18.3 10.8 L21.1 13.2 L18.3 15.2 L14.7 16.4 L12.3 17.2 L10.8 18.4 L9.6 21.5 L8.6 24.6 L5.6 27.0 L4.3 30.0 L5.9 31.4 L10.1 32.8 L15.7 33.2 L19.7 32.0 L22.9 32.8 L26.9 35.6 L30.1 38.0 L33.3 41.6 L35.7 44.8 L37.8 48.2 L36.7 50.8 L34.6 53.0 L33.7 54.6 L35.0 56.6 L39.3 59.8 L44.3 60.8 L46.7 63.6 L47.8 66.5 L48.3 70.8 L51.1 74.0 L56.7 76.4 L63.8 78.4 L68.0 79.4 L71.5 79.1 L75.0 78.0 L79.0 77.2 L84.8 76.1 L89.9 75.0 L91.8 73.5 L91.4 69.8 L89.9 64.7 L88.5 60.3 L87.4 56.0 L85.6 52.3 L82.6 50.5 L78.2 50.5 L76.4 51.9 L74.6 52.7 L73.9 50.1 L73.5 49.4 L79.0 49.0 L84.8 49.7 L89.2 52.3 L92.8 55.0" fill="none" stroke="#0cf43c" stroke-width="5"/>
<path d="M4.0 21.4 C5.5 18.9 13.7 17.4 16.7 17.7 C19.7 18.0 21.9 21.1 22.2 23.2 C22.5 25.3 20.9 28.9 18.5 30.4 C16.1 32.0 10.0 33.8 7.6 32.3 C5.2 30.7 2.5 23.8 4.0 21.4Z" fill="#0cf43c"/>
</g>
</g>
<rect x="0" y="0" width="93.9" height="81.0" fill="none" stroke="#484848" stroke-width="0.6"/>
<path d="M0 0.6h-1.3 M93.9 0.6h1.3 M0 4.0h-2.6 M93.9 4.0h2.6 M0 7.4h-1.3 M93.9 7.4h1.3 M0 10.9h-1.3 M93.9 10.9h1.3 M0 14.3h-1.3 M93.9 14.3h1.3 M0 17.8h-1.3 M93.9 17.8h1.3 M0 21.2h-2.6 M93.9 21.2h2.6 M0 24.6h-1.3 M93.9 24.6h1.3 M0 28.1h-1.3 M93.9 28.1h1.3 M0 31.5h-1.3 M93.9 31.5h1.3 M0 35.0h-1.3 M93.9 35.0h1.3 M0 38.4h-2.6 M93.9 38.4h2.6 M0 41.8h-1.3 M93.9 41.8h1.3 M0 45.3h-1.3 M93.9 45.3h1.3 M0 48.7h-1.3 M93.9 48.7h1.3 M0 52.2h-1.3 M93.9 52.2h1.3 M0 55.6h-2.6 M93.9 55.6h2.6 M0 59.0h-1.3 M93.9 59.0h1.3 M0 62.5h-1.3 M93.9 62.5h1.3 M0 65.9h-1.3 M93.9 65.9h1.3 M0 69.4h-1.3 M93.9 69.4h1.3 M0 72.8h-2.6 M93.9 72.8h2.6 M0 76.2h-1.3 M93.9 76.2h1.3 M0 79.7h-1.3 M93.9 79.7h1.3 M3.9 0v-1.3 M3.9 81.0v1.3 M8.2 0v-2.6 M8.2 81.0v2.6 M12.5 0v-1.3 M12.5 81.0v1.3 M16.8 0v-1.3 M16.8 81.0v1.3 M21.1 0v-1.3 M21.1 81.0v1.3 M25.4 0v-1.3 M25.4 81.0v1.3 M29.7 0v-1.3 M29.7 81.0v1.3 M34.0 0v-1.3 M34.0 81.0v1.3 M38.3 0v-1.3 M38.3 81.0v1.3 M42.6 0v-1.3 M42.6 81.0v1.3 M46.9 0v-1.3 M46.9 81.0v1.3 M51.2 0v-2.6 M51.2 81.0v2.6 M55.5 0v-1.3 M55.5 81.0v1.3 M59.8 0v-1.3 M59.8 81.0v1.3 M64.1 0v-1.3 M64.1 81.0v1.3 M68.4 0v-1.3 M68.4 81.0v1.3 M72.7 0v-1.3 M72.7 81.0v1.3 M77.0 0v-1.3 M77.0 81.0v1.3 M81.3 0v-1.3 M81.3 81.0v1.3 M85.6 0v-1.3 M85.6 81.0v1.3 M89.9 0v-1.3 M89.9 81.0v1.3 M94.2 0v-2.6 M94.2 81.0v2.6" stroke="#222" stroke-width="0.6" fill="none"/>
<text x="89.8" y="12.7" font-size="10" text-anchor="end" font-weight="normal" >d1</text>
</g>
<g transform="translate(164.6 324.1)">
<g clip-path="url(#pc)">
<rect x="0" y="0" width="93.9" height="81.0" fill="#e8b080"/>
<path d="M46.5 -2.0 L46.5 -0.5 L54.5 5.0 L65.0 13.2 L74.0 22.6 L81.6 32.6 L87.0 42.0 L90.0 48.6 L92.8 55.0 L96.0 58.0 L96.0 -2.0Z" fill="#fff"/>
<g clip-path="url(#wm)">
<rect x="-2" y="-2" width="100" height="86" fill="#10e6a0"/>
<path d="M24.7 31.4 C30.4 32.0 31.0 33.3 33.8 35.0 C36.5 36.7 38.9 39.2 41.0 41.4 C43.2 43.5 44.7 46.2 46.5 47.7 C48.3 49.2 49.2 49.8 51.9 50.4 C54.7 51.1 59.2 51.4 62.9 51.4 C66.5 51.4 71.3 50.0 73.8 50.4 C76.2 50.9 75.6 53.2 77.4 54.1 C79.2 55.0 81.5 55.1 84.7 55.9 C87.9 56.7 94.5 54.4 96.5 58.6 C98.5 62.9 112.7 77.6 96.5 81.4 C80.3 85.1 15.4 89.7 -0.8 81.4 C-17.0 73.0 -5.0 39.7 -0.8 31.4 C3.5 23.0 18.9 30.7 24.7 31.4Z" fill="#1cc6e2"/>
<path d="M28.3 35.0 C28.9 34.5 32.6 35.9 34.7 37.4 C36.7 38.8 39.2 41.4 40.7 43.5 C42.2 45.7 43.4 48.4 43.8 50.4 C44.1 52.5 43.5 54.8 42.9 55.9 C42.2 57.0 41.2 58.0 40.1 56.8 C39.1 55.6 38.0 51.4 36.5 48.6 C35.0 45.9 32.4 42.7 31.0 40.4 C29.7 38.2 27.7 35.5 28.3 35.0Z" fill="#1a8cf5"/>
<path d="M50.1 70.4 C51.2 70.4 54.7 72.5 57.4 73.2 C60.1 73.8 63.2 74.4 66.5 74.4 C69.8 74.4 74.2 73.5 77.4 73.2 C80.6 72.8 84.4 71.6 85.6 72.3 C86.8 72.9 87.2 75.9 84.7 77.2 C82.1 78.4 74.7 79.9 70.1 79.9 C65.6 79.9 60.6 78.2 57.4 77.2 C54.2 76.1 52.2 74.8 51.0 73.7 C49.8 72.6 49.1 70.5 50.1 70.4Z" fill="#1a8cf5"/>
<path d="M77.4 50.4 C77.7 49.4 82.7 49.3 84.7 49.7 C86.6 50.2 88.6 51.8 89.2 53.2 C89.8 54.5 89.4 57.3 88.3 57.7 C87.2 58.2 84.7 57.1 82.9 55.9 C81.0 54.7 77.1 51.5 77.4 50.4Z" fill="#0cf43c"/>
<path d="M90.1 59.5 C90.7 58.0 93.9 57.9 94.7 59.5 C95.4 61.2 95.3 68.0 94.7 69.5 C94.1 71.1 91.8 70.3 91.0 68.6 C90.3 67.0 89.5 61.1 90.1 59.5Z" fill="#a4f40c"/>
<path d="M6.5 21.4 C8.2 20.4 12.6 19.4 14.7 19.9 C16.7 20.4 18.6 22.3 18.9 24.1 C19.2 25.9 18.4 29.5 16.5 30.8 C14.6 32.1 9.4 32.7 7.4 31.9 C5.4 31.1 4.8 27.7 4.7 25.9 C4.5 24.1 4.8 22.4 6.5 21.4Z" fill="#1cc6e2"/>
<path d="M5.4 26.1 C6.2 25.1 9.3 24.5 10.5 24.6 C11.7 24.7 12.9 26.0 12.7 26.8 C12.5 27.6 10.6 28.7 9.4 29.4 C8.2 30.0 6.4 31.0 5.8 30.4 C5.1 29.9 4.6 27.1 5.4 26.1Z" fill="#1a8cf5"/>
</g>
<path d="M0.3 21.3 L3.1 23.7 L5.8 24.4 L8.0 25.9" fill="none" stroke="#3a1030" stroke-width="0.7"/>
<path d="M4.9 31.3 L6.2 28.6 L7.6 27.3" fill="none" stroke="#3a1030" stroke-width="0.7"/>
<path d="M2.2 24.1 L4.3 21.9 L7.2 24.1" fill="none" stroke="#3a1030" stroke-width="0.6"/>
</g>
<rect x="0" y="0" width="93.9" height="81.0" fill="none" stroke="#484848" stroke-width="0.6"/>
<path d="M0 0.6h-1.3 M93.9 0.6h1.3 M0 4.0h-2.6 M93.9 4.0h2.6 M0 7.4h-1.3 M93.9 7.4h1.3 M0 10.9h-1.3 M93.9 10.9h1.3 M0 14.3h-1.3 M93.9 14.3h1.3 M0 17.8h-1.3 M93.9 17.8h1.3 M0 21.2h-2.6 M93.9 21.2h2.6 M0 24.6h-1.3 M93.9 24.6h1.3 M0 28.1h-1.3 M93.9 28.1h1.3 M0 31.5h-1.3 M93.9 31.5h1.3 M0 35.0h-1.3 M93.9 35.0h1.3 M0 38.4h-2.6 M93.9 38.4h2.6 M0 41.8h-1.3 M93.9 41.8h1.3 M0 45.3h-1.3 M93.9 45.3h1.3 M0 48.7h-1.3 M93.9 48.7h1.3 M0 52.2h-1.3 M93.9 52.2h1.3 M0 55.6h-2.6 M93.9 55.6h2.6 M0 59.0h-1.3 M93.9 59.0h1.3 M0 62.5h-1.3 M93.9 62.5h1.3 M0 65.9h-1.3 M93.9 65.9h1.3 M0 69.4h-1.3 M93.9 69.4h1.3 M0 72.8h-2.6 M93.9 72.8h2.6 M0 76.2h-1.3 M93.9 76.2h1.3 M0 79.7h-1.3 M93.9 79.7h1.3 M3.9 0v-1.3 M3.9 81.0v1.3 M8.2 0v-2.6 M8.2 81.0v2.6 M12.5 0v-1.3 M12.5 81.0v1.3 M16.8 0v-1.3 M16.8 81.0v1.3 M21.1 0v-1.3 M21.1 81.0v1.3 M25.4 0v-1.3 M25.4 81.0v1.3 M29.7 0v-1.3 M29.7 81.0v1.3 M34.0 0v-1.3 M34.0 81.0v1.3 M38.3 0v-1.3 M38.3 81.0v1.3 M42.6 0v-1.3 M42.6 81.0v1.3 M46.9 0v-1.3 M46.9 81.0v1.3 M51.2 0v-2.6 M51.2 81.0v2.6 M55.5 0v-1.3 M55.5 81.0v1.3 M59.8 0v-1.3 M59.8 81.0v1.3 M64.1 0v-1.3 M64.1 81.0v1.3 M68.4 0v-1.3 M68.4 81.0v1.3 M72.7 0v-1.3 M72.7 81.0v1.3 M77.0 0v-1.3 M77.0 81.0v1.3 M81.3 0v-1.3 M81.3 81.0v1.3 M85.6 0v-1.3 M85.6 81.0v1.3 M89.9 0v-1.3 M89.9 81.0v1.3 M94.2 0v-2.6 M94.2 81.0v2.6" stroke="#222" stroke-width="0.6" fill="none"/>
<text x="89.8" y="12.7" font-size="10" text-anchor="end" font-weight="normal" >d2</text>
</g>
<g transform="translate(271.9 324.1)">
<g clip-path="url(#pc)">
<rect x="0" y="0" width="93.9" height="81.0" fill="#e8b080"/>
<path d="M46.5 -2.0 L46.5 -0.5 L54.5 5.0 L65.0 13.2 L74.0 22.6 L81.6 32.6 L87.0 42.0 L90.0 48.6 L92.8 55.0 L96.0 58.0 L96.0 -2.0Z" fill="#fff"/>
<g clip-path="url(#wm)">
<rect x="-2" y="-2" width="100" height="86" fill="#ffcc22"/>
<path d="M-1.1 -2.3 C4.7 -16.2 28.2 -3.8 33.5 -2.3 C38.8 -0.8 31.4 3.5 30.7 6.8 C30.1 10.1 29.3 14.1 29.5 17.7 C29.6 21.4 30.7 25.7 31.6 28.6 C32.6 31.5 31.9 34.0 35.3 35.0 C38.6 36.0 46.5 34.7 51.6 34.4 C56.8 34.1 61.6 33.4 66.2 33.2 C70.7 33.0 75.3 31.2 78.9 33.2 C82.6 35.1 85.1 41.2 88.0 45.0 C90.9 48.8 94.8 49.8 96.2 55.9 C97.6 62.0 112.4 77.1 96.2 81.4 C80.0 85.6 15.1 95.3 -1.1 81.4 C-17.3 67.4 -6.8 11.7 -1.1 -2.3Z" fill="#a4f40c"/>
<path d="M36.2 5.9 C35.1 8.3 34.4 9.7 34.4 12.3 C34.4 14.8 34.8 18.9 36.2 21.4 C37.6 23.8 39.7 25.4 42.6 26.8 C45.4 28.2 49.8 29.4 53.5 29.5 C57.1 29.7 61.3 28.3 64.4 27.7 C67.4 27.1 69.5 25.7 71.6 25.9 C73.8 26.1 73.0 26.1 77.1 28.6 C81.2 31.2 93.0 46.5 96.2 41.4 C99.4 36.2 105.4 5.0 96.2 -2.3 C86.9 -9.6 50.7 -3.6 40.7 -2.3 C30.7 -0.9 37.3 3.5 36.2 5.9Z" fill="#ff9018"/>
<path d="M40.7 9.5 C40.0 12.4 39.4 13.2 39.8 15.0 C40.3 16.8 41.5 19.2 43.5 20.4 C45.4 21.7 48.8 22.1 51.6 22.3 C54.5 22.5 58.2 22.2 60.7 21.7 C63.3 21.3 65.0 19.6 67.1 19.5 C69.2 19.5 68.6 19.2 73.5 21.4 C78.3 23.5 92.4 36.2 96.2 32.3 C100.0 28.3 104.8 3.5 96.2 -2.3 C87.6 -8.0 53.6 -4.3 44.4 -2.3 C35.1 -0.3 41.5 6.7 40.7 9.5Z" fill="#ff560c"/>
<path d="M49.8 12.3 C49.1 15.2 48.1 14.2 48.4 15.2 C48.6 16.1 49.7 17.4 51.3 18.1 C52.9 18.7 56.0 19.1 58.0 19.0 C60.0 18.9 61.6 17.5 63.5 17.4 C65.3 17.2 63.5 16.5 68.9 18.1 C74.4 19.7 91.6 30.2 96.2 26.8 C100.7 23.4 103.5 2.6 96.2 -2.3 C88.9 -7.1 60.3 -4.7 52.6 -2.3 C44.8 0.1 50.5 9.4 49.8 12.3Z" fill="#dc2410"/>
<path d="M59.8 10.8 C59.0 11.3 61.1 12.1 62.2 13.0 C63.3 13.9 65.0 15.3 66.2 16.3 C67.4 17.2 68.5 18.4 69.5 18.8 C70.4 19.2 72.4 19.9 72.0 18.4 C71.6 17.0 69.1 11.4 67.1 10.1 C65.1 8.8 60.6 10.3 59.8 10.8Z" fill="#8a0a08"/>
<path d="M-1.1 81.4 C-17.3 71.1 -4.1 30.0 -1.1 19.5 C1.9 9.1 12.9 17.7 17.1 18.6 C21.3 19.5 21.8 22.0 24.4 25.0 C26.9 28.0 30.4 33.9 32.6 36.8 C34.7 39.7 33.9 41.4 37.1 42.3 C40.3 43.2 46.8 42.5 51.6 42.3 C56.5 42.1 61.9 41.1 66.2 41.0 C70.4 40.8 73.8 40.1 77.1 41.4 C80.4 42.6 83.0 46.1 86.2 48.6 C89.4 51.2 94.5 51.4 96.2 56.8 C97.9 62.3 112.4 77.3 96.2 81.4 C80.0 85.4 15.1 91.7 -1.1 81.4Z" fill="#0cf43c"/>
<path d="M-1.1 81.4 C-17.3 75.9 -6.8 54.4 -1.1 48.6 C4.7 42.9 26.5 46.7 33.5 46.8 C40.4 46.9 37.7 48.7 40.7 49.0 C43.8 49.3 47.4 48.8 51.6 48.6 C55.9 48.4 61.9 47.8 66.2 47.7 C70.4 47.7 74.1 47.8 77.1 48.3 C80.1 48.7 81.2 49.2 84.4 50.4 C87.6 51.7 94.2 50.7 96.2 55.9 C98.2 61.1 112.4 77.1 96.2 81.4 C80.0 85.6 15.1 86.8 -1.1 81.4Z" fill="#10e6a0"/>
<path d="M-1.1 81.4 C-17.3 77.1 -9.0 60.0 -1.1 55.9 C6.8 51.8 36.5 56.9 46.2 56.8 C55.9 56.7 53.2 55.9 57.1 55.5 C61.0 55.1 66.2 54.8 69.8 54.4 C73.5 54.1 76.8 53.8 78.9 53.2 C81.0 52.5 79.7 50.9 82.6 50.4 C85.4 50.0 93.9 45.3 96.2 50.4 C98.5 55.6 112.4 76.2 96.2 81.4 C80.0 86.5 15.1 85.6 -1.1 81.4Z" fill="#1cc6e2"/>
<path d="M80.4 50.4 C81.2 49.2 84.6 49.3 86.2 50.1 C87.8 50.8 89.6 53.0 90.2 55.0 C90.7 57.0 90.4 60.9 89.5 62.3 C88.5 63.6 85.8 63.9 84.4 63.2 C83.0 62.4 81.8 59.8 81.1 57.7 C80.4 55.6 79.5 51.7 80.4 50.4Z" fill="#1a8cf5"/>
<path d="M4.4 18.6 C5.7 16.2 12.2 17.0 14.4 17.7 C16.6 18.5 17.2 20.9 17.5 23.2 C17.8 25.4 18.1 29.8 16.2 31.4 C14.3 32.9 8.2 34.4 6.2 32.3 C4.2 30.1 3.0 21.1 4.4 18.6Z" fill="#10e6a0"/>
<path d="M4.7 24.1 C5.6 22.6 9.2 22.2 10.7 22.4 C12.3 22.7 13.7 24.1 13.8 25.4 C14.0 26.6 13.0 29.1 11.6 30.1 C10.3 31.1 6.6 32.2 5.5 31.2 C4.3 30.2 3.9 25.5 4.7 24.1Z" fill="#1cc6e2"/>
</g>
</g>
<rect x="0" y="0" width="93.9" height="81.0" fill="none" stroke="#484848" stroke-width="0.6"/>
<path d="M0 0.6h-1.3 M93.9 0.6h1.3 M0 4.0h-2.6 M93.9 4.0h2.6 M0 7.4h-1.3 M93.9 7.4h1.3 M0 10.9h-1.3 M93.9 10.9h1.3 M0 14.3h-1.3 M93.9 14.3h1.3 M0 17.8h-1.3 M93.9 17.8h1.3 M0 21.2h-2.6 M93.9 21.2h2.6 M0 24.6h-1.3 M93.9 24.6h1.3 M0 28.1h-1.3 M93.9 28.1h1.3 M0 31.5h-1.3 M93.9 31.5h1.3 M0 35.0h-1.3 M93.9 35.0h1.3 M0 38.4h-2.6 M93.9 38.4h2.6 M0 41.8h-1.3 M93.9 41.8h1.3 M0 45.3h-1.3 M93.9 45.3h1.3 M0 48.7h-1.3 M93.9 48.7h1.3 M0 52.2h-1.3 M93.9 52.2h1.3 M0 55.6h-2.6 M93.9 55.6h2.6 M0 59.0h-1.3 M93.9 59.0h1.3 M0 62.5h-1.3 M93.9 62.5h1.3 M0 65.9h-1.3 M93.9 65.9h1.3 M0 69.4h-1.3 M93.9 69.4h1.3 M0 72.8h-2.6 M93.9 72.8h2.6 M0 76.2h-1.3 M93.9 76.2h1.3 M0 79.7h-1.3 M93.9 79.7h1.3 M3.9 0v-1.3 M3.9 81.0v1.3 M8.2 0v-2.6 M8.2 81.0v2.6 M12.5 0v-1.3 M12.5 81.0v1.3 M16.8 0v-1.3 M16.8 81.0v1.3 M21.1 0v-1.3 M21.1 81.0v1.3 M25.4 0v-1.3 M25.4 81.0v1.3 M29.7 0v-1.3 M29.7 81.0v1.3 M34.0 0v-1.3 M34.0 81.0v1.3 M38.3 0v-1.3 M38.3 81.0v1.3 M42.6 0v-1.3 M42.6 81.0v1.3 M46.9 0v-1.3 M46.9 81.0v1.3 M51.2 0v-2.6 M51.2 81.0v2.6 M55.5 0v-1.3 M55.5 81.0v1.3 M59.8 0v-1.3 M59.8 81.0v1.3 M64.1 0v-1.3 M64.1 81.0v1.3 M68.4 0v-1.3 M68.4 81.0v1.3 M72.7 0v-1.3 M72.7 81.0v1.3 M77.0 0v-1.3 M77.0 81.0v1.3 M81.3 0v-1.3 M81.3 81.0v1.3 M85.6 0v-1.3 M85.6 81.0v1.3 M89.9 0v-1.3 M89.9 81.0v1.3 M94.2 0v-2.6 M94.2 81.0v2.6" stroke="#222" stroke-width="0.6" fill="none"/>
<text x="89.8" y="12.7" font-size="10" text-anchor="end" font-weight="normal" >d3</text>
</g>
<g transform="translate(379.2 324.1)">
<g clip-path="url(#pc)">
<rect x="0" y="0" width="93.9" height="81.0" fill="#e8b080"/>
<path d="M46.5 -2.0 L46.5 -0.5 L54.5 5.0 L65.0 13.2 L74.0 22.6 L81.6 32.6 L87.0 42.0 L90.0 48.6 L92.8 55.0 L96.0 58.0 L96.0 -2.0Z" fill="#fff"/>
<g clip-path="url(#wm)">
<rect x="-2" y="-2" width="100" height="86" fill="#ffcc22"/>
<path d="M18.6 10.4 C19.1 15.1 19.8 22.7 21.3 25.9 C22.9 29.1 24.8 28.6 27.7 29.5 C30.6 30.4 35.0 31.2 38.6 31.4 C42.3 31.5 46.2 30.7 49.5 30.4 C52.9 30.1 55.6 29.4 58.6 29.5 C61.6 29.7 65.3 30.4 67.7 31.4 C70.1 32.3 71.3 33.5 73.2 35.0 C75.0 36.5 76.8 38.6 78.6 40.4 C80.4 42.3 81.2 43.0 84.1 45.9 C87.0 48.8 93.9 65.7 95.9 57.7 C97.9 49.7 108.8 7.7 95.9 -2.3 C83.0 -12.3 31.5 -4.4 18.6 -2.3 C5.7 -0.2 18.2 5.7 18.6 10.4Z" fill="#ff9018"/>
<path d="M-1.4 81.4 C-17.6 74.7 -7.6 48.0 -1.4 41.4 C4.8 34.7 28.6 40.9 35.9 41.4 C43.2 41.8 40.0 43.8 42.3 44.1 C44.5 44.4 47.1 43.0 49.5 43.2 C52.0 43.3 54.1 44.5 56.8 45.0 C59.5 45.4 63.2 45.6 65.9 45.9 C68.6 46.2 71.0 46.2 73.2 46.8 C75.3 47.4 76.5 48.5 78.6 49.5 C80.7 50.6 83.0 52.1 85.9 53.2 C88.8 54.2 94.2 51.2 95.9 55.9 C97.6 60.6 112.1 77.1 95.9 81.4 C79.7 85.6 14.8 88.0 -1.4 81.4Z" fill="#a4f40c"/>
<path d="M55.0 68.6 C58.2 67.9 65.0 68.8 69.5 68.6 C74.1 68.4 79.6 69.1 82.3 67.5 C84.9 66.0 85.1 62.0 85.2 59.5 C85.2 57.1 84.0 54.2 82.6 52.6 C81.2 51.1 74.6 50.4 76.8 50.1 C79.0 49.7 92.7 45.2 95.9 50.4 C99.1 55.7 103.6 76.2 95.9 81.4 C88.2 86.5 57.1 82.7 49.5 81.4 C42.0 80.0 49.5 75.3 50.4 73.2 C51.3 71.1 51.8 69.4 55.0 68.6Z" fill="#0cf43c"/>
<path d="M4.1 19.5 C5.3 16.8 12.1 16.8 15.0 17.7 C17.9 18.6 20.4 22.6 21.3 25.0 C22.3 27.4 22.7 30.7 20.4 32.3 C18.2 33.8 10.4 36.2 7.7 34.1 C5.0 32.0 2.9 22.3 4.1 19.5Z" fill="#a4f40c"/>
<path d="M5.2 27.2 C5.5 26.5 8.6 26.0 9.5 26.1 C10.5 26.2 11.3 27.2 11.0 27.9 C10.7 28.6 8.7 30.2 7.7 30.1 C6.7 30.0 4.9 27.8 5.2 27.2Z" fill="#0cf43c"/>
</g>
</g>
<rect x="0" y="0" width="93.9" height="81.0" fill="none" stroke="#484848" stroke-width="0.6"/>
<path d="M0 0.6h-1.3 M93.9 0.6h1.3 M0 4.0h-2.6 M93.9 4.0h2.6 M0 7.4h-1.3 M93.9 7.4h1.3 M0 10.9h-1.3 M93.9 10.9h1.3 M0 14.3h-1.3 M93.9 14.3h1.3 M0 17.8h-1.3 M93.9 17.8h1.3 M0 21.2h-2.6 M93.9 21.2h2.6 M0 24.6h-1.3 M93.9 24.6h1.3 M0 28.1h-1.3 M93.9 28.1h1.3 M0 31.5h-1.3 M93.9 31.5h1.3 M0 35.0h-1.3 M93.9 35.0h1.3 M0 38.4h-2.6 M93.9 38.4h2.6 M0 41.8h-1.3 M93.9 41.8h1.3 M0 45.3h-1.3 M93.9 45.3h1.3 M0 48.7h-1.3 M93.9 48.7h1.3 M0 52.2h-1.3 M93.9 52.2h1.3 M0 55.6h-2.6 M93.9 55.6h2.6 M0 59.0h-1.3 M93.9 59.0h1.3 M0 62.5h-1.3 M93.9 62.5h1.3 M0 65.9h-1.3 M93.9 65.9h1.3 M0 69.4h-1.3 M93.9 69.4h1.3 M0 72.8h-2.6 M93.9 72.8h2.6 M0 76.2h-1.3 M93.9 76.2h1.3 M0 79.7h-1.3 M93.9 79.7h1.3 M3.9 0v-1.3 M3.9 81.0v1.3 M8.2 0v-2.6 M8.2 81.0v2.6 M12.5 0v-1.3 M12.5 81.0v1.3 M16.8 0v-1.3 M16.8 81.0v1.3 M21.1 0v-1.3 M21.1 81.0v1.3 M25.4 0v-1.3 M25.4 81.0v1.3 M29.7 0v-1.3 M29.7 81.0v1.3 M34.0 0v-1.3 M34.0 81.0v1.3 M38.3 0v-1.3 M38.3 81.0v1.3 M42.6 0v-1.3 M42.6 81.0v1.3 M46.9 0v-1.3 M46.9 81.0v1.3 M51.2 0v-2.6 M51.2 81.0v2.6 M55.5 0v-1.3 M55.5 81.0v1.3 M59.8 0v-1.3 M59.8 81.0v1.3 M64.1 0v-1.3 M64.1 81.0v1.3 M68.4 0v-1.3 M68.4 81.0v1.3 M72.7 0v-1.3 M72.7 81.0v1.3 M77.0 0v-1.3 M77.0 81.0v1.3 M81.3 0v-1.3 M81.3 81.0v1.3 M85.6 0v-1.3 M85.6 81.0v1.3 M89.9 0v-1.3 M89.9 81.0v1.3 M94.2 0v-2.6 M94.2 81.0v2.6" stroke="#222" stroke-width="0.6" fill="none"/>
<text x="89.8" y="12.7" font-size="10" text-anchor="end" font-weight="normal" >d4</text>
</g>
<g transform="translate(57.3 424.4)">
<g clip-path="url(#pc)">
<rect x="0" y="0" width="93.9" height="81.0" fill="#e8b080"/>
<path d="M46.5 -2.0 L46.5 -0.5 L54.5 5.0 L65.0 13.2 L74.0 22.6 L81.6 32.6 L87.0 42.0 L90.0 48.6 L92.8 55.0 L96.0 58.0 L96.0 -2.0Z" fill="#fff"/>
<g clip-path="url(#wm)">
<rect x="-2" y="-2" width="100" height="86" fill="#1cc6e2"/>
<path d="M6.7 22.9 C9.4 23.2 12.0 23.2 14.9 24.7 C17.8 26.2 20.9 29.8 24.0 32.0 C27.0 34.1 30.6 35.0 33.1 37.4 C35.5 39.8 36.7 44.1 38.5 46.5 C40.3 48.9 41.9 50.4 44.0 52.0 C46.1 53.5 48.5 54.8 51.2 55.6 C54.0 56.4 57.3 56.8 60.3 56.5 C63.4 56.2 66.7 54.7 69.4 53.8 C72.2 52.9 74.3 51.4 76.7 51.1 C79.1 50.8 80.8 51.5 84.0 52.0 C87.2 52.4 93.8 48.9 95.8 53.8 C97.8 58.6 112.0 76.5 95.8 81.1 C79.6 85.6 14.7 90.8 -1.5 81.1 C-17.7 71.4 -2.8 32.6 -1.5 22.9 C-0.1 13.2 4.0 22.6 6.7 22.9Z" fill="#1a8cf5"/>
<path d="M4.9 22.9 C6.1 21.2 11.0 20.8 13.1 21.1 C15.1 21.4 16.8 23.2 17.1 24.7 C17.4 26.2 16.8 29.1 14.9 30.1 C13.0 31.2 7.5 32.4 5.8 31.2 C4.1 30.0 3.7 24.6 4.9 22.9Z" fill="#1a8cf5"/>
<path d="M4.7 25.6 C5.5 24.7 8.6 24.4 9.8 24.7 C10.9 25.0 11.9 26.4 11.6 27.2 C11.3 28.0 9.1 28.9 8.0 29.4 C6.9 29.9 5.6 30.8 5.1 30.1 C4.5 29.5 3.9 26.5 4.7 25.6Z" fill="#3f4fc8"/>
<path d="M4.0 27.6 C4.4 26.9 6.9 26.3 7.6 26.5 C8.3 26.7 8.8 28.0 8.3 28.7 C7.9 29.4 5.8 31.1 5.1 30.9 C4.3 30.7 3.5 28.3 4.0 27.6Z" fill="#30123b"/>
</g>
<path d="M0.3 21.3 L3.1 23.7 L5.8 24.4 L8.0 25.9" fill="none" stroke="#3a1030" stroke-width="0.7"/>
<path d="M4.9 31.3 L6.2 28.6 L7.6 27.3" fill="none" stroke="#3a1030" stroke-width="0.7"/>
<path d="M2.2 24.1 L4.3 21.9 L7.2 24.1" fill="none" stroke="#3a1030" stroke-width="0.6"/>
</g>
<rect x="0" y="0" width="93.9" height="81.0" fill="none" stroke="#484848" stroke-width="0.6"/>
<path d="M0 0.6h-1.3 M93.9 0.6h1.3 M0 4.0h-2.6 M93.9 4.0h2.6 M0 7.4h-1.3 M93.9 7.4h1.3 M0 10.9h-1.3 M93.9 10.9h1.3 M0 14.3h-1.3 M93.9 14.3h1.3 M0 17.8h-1.3 M93.9 17.8h1.3 M0 21.2h-2.6 M93.9 21.2h2.6 M0 24.6h-1.3 M93.9 24.6h1.3 M0 28.1h-1.3 M93.9 28.1h1.3 M0 31.5h-1.3 M93.9 31.5h1.3 M0 35.0h-1.3 M93.9 35.0h1.3 M0 38.4h-2.6 M93.9 38.4h2.6 M0 41.8h-1.3 M93.9 41.8h1.3 M0 45.3h-1.3 M93.9 45.3h1.3 M0 48.7h-1.3 M93.9 48.7h1.3 M0 52.2h-1.3 M93.9 52.2h1.3 M0 55.6h-2.6 M93.9 55.6h2.6 M0 59.0h-1.3 M93.9 59.0h1.3 M0 62.5h-1.3 M93.9 62.5h1.3 M0 65.9h-1.3 M93.9 65.9h1.3 M0 69.4h-1.3 M93.9 69.4h1.3 M0 72.8h-2.6 M93.9 72.8h2.6 M0 76.2h-1.3 M93.9 76.2h1.3 M0 79.7h-1.3 M93.9 79.7h1.3 M3.9 0v-1.3 M3.9 81.0v1.3 M8.2 0v-2.6 M8.2 81.0v2.6 M12.5 0v-1.3 M12.5 81.0v1.3 M16.8 0v-1.3 M16.8 81.0v1.3 M21.1 0v-1.3 M21.1 81.0v1.3 M25.4 0v-1.3 M25.4 81.0v1.3 M29.7 0v-1.3 M29.7 81.0v1.3 M34.0 0v-1.3 M34.0 81.0v1.3 M38.3 0v-1.3 M38.3 81.0v1.3 M42.6 0v-1.3 M42.6 81.0v1.3 M46.9 0v-1.3 M46.9 81.0v1.3 M51.2 0v-2.6 M51.2 81.0v2.6 M55.5 0v-1.3 M55.5 81.0v1.3 M59.8 0v-1.3 M59.8 81.0v1.3 M64.1 0v-1.3 M64.1 81.0v1.3 M68.4 0v-1.3 M68.4 81.0v1.3 M72.7 0v-1.3 M72.7 81.0v1.3 M77.0 0v-1.3 M77.0 81.0v1.3 M81.3 0v-1.3 M81.3 81.0v1.3 M85.6 0v-1.3 M85.6 81.0v1.3 M89.9 0v-1.3 M89.9 81.0v1.3 M94.2 0v-2.6 M94.2 81.0v2.6" stroke="#222" stroke-width="0.6" fill="none"/>
<text x="89.8" y="12.7" font-size="10" text-anchor="end" font-weight="normal" >e1</text>
</g>
<g transform="translate(164.6 424.4)">
<g clip-path="url(#pc)">
<rect x="0" y="0" width="93.9" height="81.0" fill="#e8b080"/>
<path d="M46.5 -2.0 L46.5 -0.5 L54.5 5.0 L65.0 13.2 L74.0 22.6 L81.6 32.6 L87.0 42.0 L90.0 48.6 L92.8 55.0 L96.0 58.0 L96.0 -2.0Z" fill="#fff"/>
<g clip-path="url(#wm)">
<rect x="-2" y="-2" width="100" height="86" fill="#1cc6e2"/>
<path d="M27.4 33.8 C33.5 33.9 33.0 33.9 35.6 34.7 C38.2 35.4 40.4 36.8 42.9 38.3 C45.3 39.8 47.7 42.3 50.1 43.8 C52.6 45.3 54.7 46.5 57.4 47.4 C60.1 48.3 63.8 48.8 66.5 49.2 C69.2 49.7 71.9 50.3 73.8 50.1 C75.6 50.0 73.6 47.7 77.4 48.3 C81.2 48.9 93.3 48.3 96.5 53.8 C99.7 59.2 112.7 76.5 96.5 81.1 C80.3 85.6 15.4 88.9 -0.8 81.1 C-17.0 73.2 -5.5 41.7 -0.8 33.8 C3.9 25.9 21.3 33.6 27.4 33.8Z" fill="#10e6a0"/>
<path d="M57.4 72.9 C58.8 72.4 63.2 73.9 66.5 73.8 C69.8 73.6 74.1 72.3 77.4 72.0 C80.7 71.6 85.1 70.8 86.5 71.6 C87.9 72.4 88.3 75.5 85.6 76.9 C82.9 78.2 74.7 79.6 70.1 79.6 C65.6 79.6 60.4 78.0 58.3 76.9 C56.2 75.8 56.0 73.4 57.4 72.9Z" fill="#0cf43c"/>
<path d="M5.0 24.3 C6.2 23.0 11.1 22.6 12.9 22.9 C14.6 23.2 15.6 24.9 15.6 26.1 C15.6 27.4 14.5 29.4 12.9 30.1 C11.2 30.9 7.1 31.8 5.8 30.9 C4.5 29.9 3.9 25.7 5.0 24.3Z" fill="#1a8cf5"/>
<path d="M5.4 26.5 C6.0 25.7 8.5 25.3 9.4 25.4 C10.3 25.6 11.1 26.8 10.9 27.4 C10.6 28.1 8.8 29.0 7.9 29.4 C7.1 29.9 6.2 30.6 5.8 30.1 C5.3 29.7 4.8 27.3 5.4 26.5Z" fill="#3f4fc8"/>
</g>
</g>
<rect x="0" y="0" width="93.9" height="81.0" fill="none" stroke="#484848" stroke-width="0.6"/>
<path d="M0 0.6h-1.3 M93.9 0.6h1.3 M0 4.0h-2.6 M93.9 4.0h2.6 M0 7.4h-1.3 M93.9 7.4h1.3 M0 10.9h-1.3 M93.9 10.9h1.3 M0 14.3h-1.3 M93.9 14.3h1.3 M0 17.8h-1.3 M93.9 17.8h1.3 M0 21.2h-2.6 M93.9 21.2h2.6 M0 24.6h-1.3 M93.9 24.6h1.3 M0 28.1h-1.3 M93.9 28.1h1.3 M0 31.5h-1.3 M93.9 31.5h1.3 M0 35.0h-1.3 M93.9 35.0h1.3 M0 38.4h-2.6 M93.9 38.4h2.6 M0 41.8h-1.3 M93.9 41.8h1.3 M0 45.3h-1.3 M93.9 45.3h1.3 M0 48.7h-1.3 M93.9 48.7h1.3 M0 52.2h-1.3 M93.9 52.2h1.3 M0 55.6h-2.6 M93.9 55.6h2.6 M0 59.0h-1.3 M93.9 59.0h1.3 M0 62.5h-1.3 M93.9 62.5h1.3 M0 65.9h-1.3 M93.9 65.9h1.3 M0 69.4h-1.3 M93.9 69.4h1.3 M0 72.8h-2.6 M93.9 72.8h2.6 M0 76.2h-1.3 M93.9 76.2h1.3 M0 79.7h-1.3 M93.9 79.7h1.3 M3.9 0v-1.3 M3.9 81.0v1.3 M8.2 0v-2.6 M8.2 81.0v2.6 M12.5 0v-1.3 M12.5 81.0v1.3 M16.8 0v-1.3 M16.8 81.0v1.3 M21.1 0v-1.3 M21.1 81.0v1.3 M25.4 0v-1.3 M25.4 81.0v1.3 M29.7 0v-1.3 M29.7 81.0v1.3 M34.0 0v-1.3 M34.0 81.0v1.3 M38.3 0v-1.3 M38.3 81.0v1.3 M42.6 0v-1.3 M42.6 81.0v1.3 M46.9 0v-1.3 M46.9 81.0v1.3 M51.2 0v-2.6 M51.2 81.0v2.6 M55.5 0v-1.3 M55.5 81.0v1.3 M59.8 0v-1.3 M59.8 81.0v1.3 M64.1 0v-1.3 M64.1 81.0v1.3 M68.4 0v-1.3 M68.4 81.0v1.3 M72.7 0v-1.3 M72.7 81.0v1.3 M77.0 0v-1.3 M77.0 81.0v1.3 M81.3 0v-1.3 M81.3 81.0v1.3 M85.6 0v-1.3 M85.6 81.0v1.3 M89.9 0v-1.3 M89.9 81.0v1.3 M94.2 0v-2.6 M94.2 81.0v2.6" stroke="#222" stroke-width="0.6" fill="none"/>
<text x="89.8" y="12.7" font-size="10" text-anchor="end" font-weight="normal" >e2</text>
</g>
<g transform="translate(271.9 424.4)">
<g clip-path="url(#pc)">
<rect x="0" y="0" width="93.9" height="81.0" fill="#e8b080"/>
<path d="M46.5 -2.0 L46.5 -0.5 L54.5 5.0 L65.0 13.2 L74.0 22.6 L81.6 32.6 L87.0 42.0 L90.0 48.6 L92.8 55.0 L96.0 58.0 L96.0 -2.0Z" fill="#fff"/>
<g clip-path="url(#wm)">
<rect x="-2" y="-2" width="100" height="86" fill="#0cf43c"/>
<path d="M39.8 12.0 C40.9 10.4 43.0 9.1 45.3 8.7 C47.6 8.2 51.3 8.4 53.5 9.2 C55.6 10.1 57.4 11.8 58.0 13.8 C58.6 15.8 58.3 19.2 57.1 21.1 C55.9 22.9 53.2 24.2 50.7 24.7 C48.3 25.1 44.6 24.8 42.6 23.8 C40.5 22.7 39.0 20.3 38.6 18.3 C38.1 16.4 38.7 13.6 39.8 12.0Z" fill="#10e6a0"/>
<path d="M-1.1 81.1 C-17.3 72.4 -4.1 38.2 -1.1 29.2 C1.9 20.3 11.9 27.6 17.1 27.4 C22.3 27.3 26.5 27.6 29.8 28.3 C33.2 29.1 34.7 30.6 37.1 32.0 C39.5 33.3 41.3 35.8 44.4 36.5 C47.4 37.3 51.6 36.8 55.3 36.5 C58.9 36.2 63.2 34.7 66.2 34.7 C69.2 34.7 71.0 35.1 73.5 36.5 C75.9 37.9 76.9 40.0 80.7 42.9 C84.5 45.8 93.6 47.4 96.2 53.8 C98.8 60.1 112.4 76.5 96.2 81.1 C80.0 85.6 15.1 89.7 -1.1 81.1Z" fill="#a4f40c"/>
<path d="M-1.1 81.1 C-17.3 74.4 -6.7 47.7 -1.1 41.1 C4.5 34.4 25.9 39.7 32.6 41.1 C39.2 42.4 36.3 47.6 38.9 49.2 C41.5 50.9 44.7 51.1 48.0 51.1 C51.3 51.0 55.3 49.4 58.9 48.9 C62.6 48.4 66.8 47.8 69.8 48.0 C72.9 48.1 75.0 49.1 77.1 49.8 C79.2 50.5 79.4 51.5 82.6 52.3 C85.7 53.1 93.9 49.9 96.2 54.7 C98.5 59.5 112.4 76.7 96.2 81.1 C80.0 85.4 15.1 87.7 -1.1 81.1Z" fill="#ffcc22"/>
<path d="M-1.1 81.1 C-9.4 81.1 38.2 84.1 46.2 81.1 C54.2 78.0 46.2 66.5 47.1 62.9 C48.0 59.2 49.4 60.1 51.6 59.2 C53.9 58.3 57.7 57.6 60.7 57.4 C63.8 57.3 66.8 58.5 69.8 58.3 C72.9 58.2 76.5 57.0 78.9 56.5 C81.3 56.1 82.6 55.3 84.4 55.6 C86.2 55.9 87.9 57.7 89.8 58.3 C91.8 58.9 95.1 55.4 96.2 59.2 C97.3 63.0 112.4 77.4 96.2 81.1 C80.0 84.7 7.3 81.1 -1.1 81.1Z" fill="#ff9018"/>
<path d="M88.0 57.4 C88.6 55.6 92.6 55.6 93.5 57.4 C94.4 59.2 94.1 66.5 93.5 68.3 C92.9 70.1 90.7 70.1 89.8 68.3 C88.9 66.5 87.4 59.2 88.0 57.4Z" fill="#ffcc22"/>
<path d="M4.7 22.9 C5.6 21.2 9.9 21.8 11.6 21.1 C13.4 20.3 14.4 18.5 15.3 18.3 C16.2 18.2 17.1 18.5 17.1 20.1 C17.1 21.8 17.1 26.5 15.3 28.3 C13.5 30.1 7.9 32.0 6.2 31.1 C4.4 30.1 3.8 24.5 4.7 22.9Z" fill="#10e6a0"/>
<path d="M5.5 26.9 C5.7 26.2 8.3 25.4 9.1 25.4 C9.9 25.5 10.8 26.6 10.6 27.2 C10.3 27.9 8.5 29.5 7.6 29.4 C6.8 29.4 5.2 27.5 5.5 26.9Z" fill="#1a8cf5"/>
<path d="M12.7 18.9 C13.0 18.4 14.5 18.1 14.9 18.5 C15.3 18.9 15.6 20.6 15.3 21.1 C15.0 21.5 13.5 21.8 13.1 21.4 C12.7 21.1 12.4 19.4 12.7 18.9Z" fill="#1a8cf5"/>
</g>
</g>
<rect x="0" y="0" width="93.9" height="81.0" fill="none" stroke="#484848" stroke-width="0.6"/>
<path d="M0 0.6h-1.3 M93.9 0.6h1.3 M0 4.0h-2.6 M93.9 4.0h2.6 M0 7.4h-1.3 M93.9 7.4h1.3 M0 10.9h-1.3 M93.9 10.9h1.3 M0 14.3h-1.3 M93.9 14.3h1.3 M0 17.8h-1.3 M93.9 17.8h1.3 M0 21.2h-2.6 M93.9 21.2h2.6 M0 24.6h-1.3 M93.9 24.6h1.3 M0 28.1h-1.3 M93.9 28.1h1.3 M0 31.5h-1.3 M93.9 31.5h1.3 M0 35.0h-1.3 M93.9 35.0h1.3 M0 38.4h-2.6 M93.9 38.4h2.6 M0 41.8h-1.3 M93.9 41.8h1.3 M0 45.3h-1.3 M93.9 45.3h1.3 M0 48.7h-1.3 M93.9 48.7h1.3 M0 52.2h-1.3 M93.9 52.2h1.3 M0 55.6h-2.6 M93.9 55.6h2.6 M0 59.0h-1.3 M93.9 59.0h1.3 M0 62.5h-1.3 M93.9 62.5h1.3 M0 65.9h-1.3 M93.9 65.9h1.3 M0 69.4h-1.3 M93.9 69.4h1.3 M0 72.8h-2.6 M93.9 72.8h2.6 M0 76.2h-1.3 M93.9 76.2h1.3 M0 79.7h-1.3 M93.9 79.7h1.3 M3.9 0v-1.3 M3.9 81.0v1.3 M8.2 0v-2.6 M8.2 81.0v2.6 M12.5 0v-1.3 M12.5 81.0v1.3 M16.8 0v-1.3 M16.8 81.0v1.3 M21.1 0v-1.3 M21.1 81.0v1.3 M25.4 0v-1.3 M25.4 81.0v1.3 M29.7 0v-1.3 M29.7 81.0v1.3 M34.0 0v-1.3 M34.0 81.0v1.3 M38.3 0v-1.3 M38.3 81.0v1.3 M42.6 0v-1.3 M42.6 81.0v1.3 M46.9 0v-1.3 M46.9 81.0v1.3 M51.2 0v-2.6 M51.2 81.0v2.6 M55.5 0v-1.3 M55.5 81.0v1.3 M59.8 0v-1.3 M59.8 81.0v1.3 M64.1 0v-1.3 M64.1 81.0v1.3 M68.4 0v-1.3 M68.4 81.0v1.3 M72.7 0v-1.3 M72.7 81.0v1.3 M77.0 0v-1.3 M77.0 81.0v1.3 M81.3 0v-1.3 M81.3 81.0v1.3 M85.6 0v-1.3 M85.6 81.0v1.3 M89.9 0v-1.3 M89.9 81.0v1.3 M94.2 0v-2.6 M94.2 81.0v2.6" stroke="#222" stroke-width="0.6" fill="none"/>
<text x="89.8" y="12.7" font-size="10" text-anchor="end" font-weight="normal" >e3</text>
</g>
<g transform="translate(379.2 424.4)">
<g clip-path="url(#pc)">
<rect x="0" y="0" width="93.9" height="81.0" fill="#e8b080"/>
<path d="M46.5 -2.0 L46.5 -0.5 L54.5 5.0 L65.0 13.2 L74.0 22.6 L81.6 32.6 L87.0 42.0 L90.0 48.6 L92.8 55.0 L96.0 58.0 L96.0 -2.0Z" fill="#fff"/>
<g clip-path="url(#wm)">
<rect x="-2" y="-2" width="100" height="86" fill="#10e6a0"/>
<path d="M20.4 14.7 C22.6 18.0 29.2 17.1 33.2 17.4 C37.1 17.7 40.4 16.4 44.1 16.5 C47.7 16.7 51.6 17.3 55.0 18.3 C58.3 19.4 61.3 20.9 64.1 22.9 C66.8 24.8 68.9 27.4 71.3 30.1 C73.8 32.9 76.2 36.2 78.6 39.2 C81.0 42.3 83.0 45.6 85.9 48.3 C88.8 51.1 94.2 64.1 95.9 55.6 C97.6 47.1 108.5 7.1 95.9 -2.6 C83.3 -12.3 33.0 -5.5 20.4 -2.6 C7.9 0.3 18.3 11.4 20.4 14.7Z" fill="#1cc6e2"/>
<path d="M37.7 58.3 C39.7 55.0 46.6 60.9 49.5 61.1 C52.4 61.2 52.9 60.0 55.0 59.2 C57.1 58.5 59.2 57.3 62.3 56.5 C65.3 55.8 70.7 55.8 73.2 54.7 C75.6 53.6 75.0 51.1 76.8 50.1 C78.6 49.2 80.9 48.9 84.1 49.2 C87.3 49.5 93.9 46.7 95.9 52.0 C97.9 57.3 112.1 76.2 95.9 81.1 C79.7 85.9 8.3 81.1 -1.4 81.1 C-11.1 81.1 31.2 84.8 37.7 81.1 C44.2 77.3 35.7 61.7 37.7 58.3Z" fill="#0cf43c"/>
<path d="M69.5 73.4 C70.7 72.4 75.6 72.2 78.6 72.0 C81.6 71.7 85.6 71.6 87.7 72.0 C89.8 72.3 92.0 73.3 91.3 74.1 C90.7 75.0 87.4 76.4 84.1 77.1 C80.7 77.8 73.8 78.9 71.3 78.3 C68.9 77.7 68.3 74.5 69.5 73.4Z" fill="#a4f40c"/>
<path d="M82.6 73.4 C83.2 72.8 88.0 72.5 89.5 72.7 C91.0 72.9 92.3 73.9 91.7 74.5 C91.1 75.1 87.4 76.7 85.9 76.5 C84.4 76.3 82.0 74.1 82.6 73.4Z" fill="#ffcc22"/>
<path d="M4.1 24.7 C5.4 23.3 11.0 22.6 13.2 22.9 C15.3 23.2 16.8 25.2 16.8 26.5 C16.8 27.8 15.1 29.8 13.2 30.5 C11.2 31.3 6.5 32.0 5.0 31.1 C3.5 30.1 2.7 26.1 4.1 24.7Z" fill="#1a8cf5"/>
<path d="M4.1 28.0 C4.6 27.2 7.2 26.4 8.1 26.5 C8.9 26.6 9.6 28.0 9.2 28.7 C8.7 29.4 6.0 31.0 5.2 30.9 C4.3 30.8 3.6 28.7 4.1 28.0Z" fill="#30123b"/>
</g>
<path d="M0.3 21.3 L3.1 23.7 L5.8 24.4 L8.0 25.9" fill="none" stroke="#3a1030" stroke-width="0.7"/>
<path d="M4.9 31.3 L6.2 28.6 L7.6 27.3" fill="none" stroke="#3a1030" stroke-width="0.7"/>
<path d="M2.2 24.1 L4.3 21.9 L7.2 24.1" fill="none" stroke="#3a1030" stroke-width="0.6"/>
</g>
<rect x="0" y="0" width="93.9" height="81.0" fill="none" stroke="#484848" stroke-width="0.6"/>
<path d="M0 0.6h-1.3 M93.9 0.6h1.3 M0 4.0h-2.6 M93.9 4.0h2.6 M0 7.4h-1.3 M93.9 7.4h1.3 M0 10.9h-1.3 M93.9 10.9h1.3 M0 14.3h-1.3 M93.9 14.3h1.3 M0 17.8h-1.3 M93.9 17.8h1.3 M0 21.2h-2.6 M93.9 21.2h2.6 M0 24.6h-1.3 M93.9 24.6h1.3 M0 28.1h-1.3 M93.9 28.1h1.3 M0 31.5h-1.3 M93.9 31.5h1.3 M0 35.0h-1.3 M93.9 35.0h1.3 M0 38.4h-2.6 M93.9 38.4h2.6 M0 41.8h-1.3 M93.9 41.8h1.3 M0 45.3h-1.3 M93.9 45.3h1.3 M0 48.7h-1.3 M93.9 48.7h1.3 M0 52.2h-1.3 M93.9 52.2h1.3 M0 55.6h-2.6 M93.9 55.6h2.6 M0 59.0h-1.3 M93.9 59.0h1.3 M0 62.5h-1.3 M93.9 62.5h1.3 M0 65.9h-1.3 M93.9 65.9h1.3 M0 69.4h-1.3 M93.9 69.4h1.3 M0 72.8h-2.6 M93.9 72.8h2.6 M0 76.2h-1.3 M93.9 76.2h1.3 M0 79.7h-1.3 M93.9 79.7h1.3 M3.9 0v-1.3 M3.9 81.0v1.3 M8.2 0v-2.6 M8.2 81.0v2.6 M12.5 0v-1.3 M12.5 81.0v1.3 M16.8 0v-1.3 M16.8 81.0v1.3 M21.1 0v-1.3 M21.1 81.0v1.3 M25.4 0v-1.3 M25.4 81.0v1.3 M29.7 0v-1.3 M29.7 81.0v1.3 M34.0 0v-1.3 M34.0 81.0v1.3 M38.3 0v-1.3 M38.3 81.0v1.3 M42.6 0v-1.3 M42.6 81.0v1.3 M46.9 0v-1.3 M46.9 81.0v1.3 M51.2 0v-2.6 M51.2 81.0v2.6 M55.5 0v-1.3 M55.5 81.0v1.3 M59.8 0v-1.3 M59.8 81.0v1.3 M64.1 0v-1.3 M64.1 81.0v1.3 M68.4 0v-1.3 M68.4 81.0v1.3 M72.7 0v-1.3 M72.7 81.0v1.3 M77.0 0v-1.3 M77.0 81.0v1.3 M81.3 0v-1.3 M81.3 81.0v1.3 M85.6 0v-1.3 M85.6 81.0v1.3 M89.9 0v-1.3 M89.9 81.0v1.3 M94.2 0v-2.6 M94.2 81.0v2.6" stroke="#222" stroke-width="0.6" fill="none"/>
<text x="89.8" y="12.7" font-size="10" text-anchor="end" font-weight="normal" >e4</text>
</g>
<text x="104.2" y="18.8" font-size="12.7" text-anchor="middle" font-weight="bold" style="fill:#000">Winter</text>
<text x="211.6" y="18.8" font-size="12.7" text-anchor="middle" font-weight="bold" style="fill:#000">Spring</text>
<text x="318.8" y="18.8" font-size="12.7" text-anchor="middle" font-weight="bold" style="fill:#000">Summer</text>
<text x="426.1" y="18.8" font-size="12.7" text-anchor="middle" font-weight="bold" style="fill:#000">Fall</text>
<text x="50.2" y="31.7" font-size="11" text-anchor="end" font-weight="normal" >42.6</text>
<text x="50.2" y="48.9" font-size="11" text-anchor="end" font-weight="normal" >42.4</text>
<text x="50.2" y="66.1" font-size="11" text-anchor="end" font-weight="normal" >42.2</text>
<text x="50.2" y="83.3" font-size="11" text-anchor="end" font-weight="normal" >42</text>
<text x="50.2" y="100.5" font-size="11" text-anchor="end" font-weight="normal" >41.8</text>
<text transform="translate(19.0 63.2) rotate(-90)" font-size="12.5" text-anchor="middle">Latitude (°N)</text>
<text x="50.2" y="132.0" font-size="11" text-anchor="end" font-weight="normal" >42.6</text>
<text x="50.2" y="149.2" font-size="11" text-anchor="end" font-weight="normal" >42.4</text>
<text x="50.2" y="166.4" font-size="11" text-anchor="end" font-weight="normal" >42.2</text>
<text x="50.2" y="183.6" font-size="11" text-anchor="end" font-weight="normal" >42</text>
<text x="50.2" y="200.8" font-size="11" text-anchor="end" font-weight="normal" >41.8</text>
<text transform="translate(19.0 163.5) rotate(-90)" font-size="12.5" text-anchor="middle">Latitude (°N)</text>
<text x="50.2" y="232.3" font-size="11" text-anchor="end" font-weight="normal" >42.6</text>
<text x="50.2" y="249.5" font-size="11" text-anchor="end" font-weight="normal" >42.4</text>
<text x="50.2" y="266.7" font-size="11" text-anchor="end" font-weight="normal" >42.2</text>
<text x="50.2" y="283.9" font-size="11" text-anchor="end" font-weight="normal" >42</text>
<text x="50.2" y="301.1" font-size="11" text-anchor="end" font-weight="normal" >41.8</text>
<text transform="translate(19.0 263.8) rotate(-90)" font-size="12.5" text-anchor="middle">Latitude (°N)</text>
<text x="50.2" y="332.6" font-size="11" text-anchor="end" font-weight="normal" >42.6</text>
<text x="50.2" y="349.8" font-size="11" text-anchor="end" font-weight="normal" >42.4</text>
<text x="50.2" y="367.0" font-size="11" text-anchor="end" font-weight="normal" >42.2</text>
<text x="50.2" y="384.2" font-size="11" text-anchor="end" font-weight="normal" >42</text>
<text x="50.2" y="401.4" font-size="11" text-anchor="end" font-weight="normal" >41.8</text>
<text transform="translate(19.0 364.1) rotate(-90)" font-size="12.5" text-anchor="middle">Latitude (°N)</text>
<text x="50.2" y="432.9" font-size="11" text-anchor="end" font-weight="normal" >42.6</text>
<text x="50.2" y="450.1" font-size="11" text-anchor="end" font-weight="normal" >42.4</text>
<text x="50.2" y="467.3" font-size="11" text-anchor="end" font-weight="normal" >42.2</text>
<text x="50.2" y="484.5" font-size="11" text-anchor="end" font-weight="normal" >42</text>
<text x="50.2" y="501.7" font-size="11" text-anchor="end" font-weight="normal" >41.8</text>
<text transform="translate(19.0 464.4) rotate(-90)" font-size="12.5" text-anchor="middle">Latitude (°N)</text>
<text x="65.5" y="523.6" font-size="11" text-anchor="middle" font-weight="normal" >71</text>
<text x="108.5" y="523.6" font-size="11" text-anchor="middle" font-weight="normal" >70.5</text>
<text x="151.5" y="523.6" font-size="11" text-anchor="middle" font-weight="normal" >70</text>
<text x="104.0" y="538.5" font-size="12.4" text-anchor="middle" font-weight="normal" >Longitude (°W)</text>
<text x="172.8" y="523.6" font-size="11" text-anchor="middle" font-weight="normal" >71</text>
<text x="215.8" y="523.6" font-size="11" text-anchor="middle" font-weight="normal" >70.5</text>
<text x="258.8" y="523.6" font-size="11" text-anchor="middle" font-weight="normal" >70</text>
<text x="211.2" y="538.5" font-size="12.4" text-anchor="middle" font-weight="normal" >Longitude (°W)</text>
<text x="280.1" y="523.6" font-size="11" text-anchor="middle" font-weight="normal" >71</text>
<text x="323.1" y="523.6" font-size="11" text-anchor="middle" font-weight="normal" >70.5</text>
<text x="366.1" y="523.6" font-size="11" text-anchor="middle" font-weight="normal" >70</text>
<text x="318.5" y="538.5" font-size="12.4" text-anchor="middle" font-weight="normal" >Longitude (°W)</text>
<text x="387.4" y="523.6" font-size="11" text-anchor="middle" font-weight="normal" >71</text>
<text x="430.4" y="523.6" font-size="11" text-anchor="middle" font-weight="normal" >70.5</text>
<text x="473.4" y="523.6" font-size="11" text-anchor="middle" font-weight="normal" >70</text>
<text x="425.8" y="538.5" font-size="12.4" text-anchor="middle" font-weight="normal" >Longitude (°W)</text>
<g id="cb0">
<rect x="487.4" y="98.80" width="10" height="6.20" fill="#30123b"/>
<rect x="487.4" y="92.80" width="10" height="6.20" fill="#3f4fc8"/>
<rect x="487.4" y="86.80" width="10" height="6.20" fill="#1a8cf5"/>
<rect x="487.4" y="80.80" width="10" height="6.20" fill="#1cc6e2"/>
<rect x="487.4" y="74.80" width="10" height="6.20" fill="#10e6a0"/>
<rect x="487.4" y="68.80" width="10" height="6.20" fill="#0cf43c"/>
<rect x="487.4" y="62.80" width="10" height="6.20" fill="#a4f40c"/>
<rect x="487.4" y="56.80" width="10" height="6.20" fill="#ffcc22"/>
<rect x="487.4" y="50.80" width="10" height="6.20" fill="#ff9018"/>
<rect x="487.4" y="44.80" width="10" height="6.20" fill="#ff560c"/>
<rect x="487.4" y="38.80" width="10" height="6.20" fill="#dc2410"/>
<rect x="487.4" y="32.80" width="10" height="6.20" fill="#8a0a08"/>
<rect x="487.4" y="32.80" width="10" height="72.00" fill="none" stroke="#333" stroke-width="0.4"/>
<text x="502.4" y="37.1" font-size="10" text-anchor="start" font-weight="normal" >2300</text>
<text x="502.4" y="61.1" font-size="10" text-anchor="start" font-weight="normal" >2200</text>
<text x="502.4" y="85.1" font-size="10" text-anchor="start" font-weight="normal" >2100</text>
<text x="502.4" y="109.1" font-size="10" text-anchor="start" font-weight="normal" >2000</text>
<text x="510.0" y="25.5" font-size="10.4" text-anchor="middle" font-weight="normal" >TA (<tspan font-style="italic">μ</tspan>mol/kg)</text>
</g>
<g id="cb1">
<rect x="487.4" y="199.10" width="10" height="6.20" fill="#30123b"/>
<rect x="487.4" y="193.10" width="10" height="6.20" fill="#3f4fc8"/>
<rect x="487.4" y="187.10" width="10" height="6.20" fill="#1a8cf5"/>
<rect x="487.4" y="181.10" width="10" height="6.20" fill="#1cc6e2"/>
<rect x="487.4" y="175.10" width="10" height="6.20" fill="#10e6a0"/>
<rect x="487.4" y="169.10" width="10" height="6.20" fill="#0cf43c"/>
<rect x="487.4" y="163.10" width="10" height="6.20" fill="#a4f40c"/>
<rect x="487.4" y="157.10" width="10" height="6.20" fill="#ffcc22"/>
<rect x="487.4" y="151.10" width="10" height="6.20" fill="#ff9018"/>
<rect x="487.4" y="145.10" width="10" height="6.20" fill="#ff560c"/>
<rect x="487.4" y="139.10" width="10" height="6.20" fill="#dc2410"/>
<rect x="487.4" y="133.10" width="10" height="6.20" fill="#8a0a08"/>
<rect x="487.4" y="133.10" width="10" height="72.00" fill="none" stroke="#333" stroke-width="0.4"/>
<text x="502.4" y="137.4" font-size="10" text-anchor="start" font-weight="normal" >2200</text>
<text x="502.4" y="173.4" font-size="10" text-anchor="start" font-weight="normal" >2000</text>
<text x="502.4" y="209.4" font-size="10" text-anchor="start" font-weight="normal" >1800</text>
<text x="509.8" y="125.8" font-size="10.2" text-anchor="middle" font-weight="normal" >DIC (<tspan font-style="italic">μ</tspan>mol/kg)</text>
</g>
<g id="cb2">
<rect x="487.4" y="299.40" width="10" height="6.20" fill="#30123b"/>
<rect x="487.4" y="293.40" width="10" height="6.20" fill="#3f4fc8"/>
<rect x="487.4" y="287.40" width="10" height="6.20" fill="#1a8cf5"/>
<rect x="487.4" y="281.40" width="10" height="6.20" fill="#1cc6e2"/>
<rect x="487.4" y="275.40" width="10" height="6.20" fill="#10e6a0"/>
<rect x="487.4" y="269.40" width="10" height="6.20" fill="#0cf43c"/>
<rect x="487.4" y="263.40" width="10" height="6.20" fill="#a4f40c"/>
<rect x="487.4" y="257.40" width="10" height="6.20" fill="#ffcc22"/>
<rect x="487.4" y="251.40" width="10" height="6.20" fill="#ff9018"/>
<rect x="487.4" y="245.40" width="10" height="6.20" fill="#ff560c"/>
<rect x="487.4" y="239.40" width="10" height="6.20" fill="#dc2410"/>
<rect x="487.4" y="233.40" width="10" height="6.20" fill="#8a0a08"/>
<rect x="487.4" y="233.40" width="10" height="72.00" fill="none" stroke="#333" stroke-width="0.4"/>
<text x="502.4" y="237.7" font-size="10" text-anchor="start" font-weight="normal" >8.2</text>
<text x="502.4" y="273.7" font-size="10" text-anchor="start" font-weight="normal" >8</text>
<text x="502.4" y="309.7" font-size="10" text-anchor="start" font-weight="normal" >7.8</text>
<text x="492.6" y="228.1" font-size="10.4" text-anchor="middle" font-weight="normal" >pH</text>
</g>
<g id="cb3">
<rect x="487.4" y="399.70" width="10" height="6.20" fill="#30123b"/>
<rect x="487.4" y="393.70" width="10" height="6.20" fill="#3f4fc8"/>
<rect x="487.4" y="387.70" width="10" height="6.20" fill="#1a8cf5"/>
<rect x="487.4" y="381.70" width="10" height="6.20" fill="#1cc6e2"/>
<rect x="487.4" y="375.70" width="10" height="6.20" fill="#10e6a0"/>
<rect x="487.4" y="369.70" width="10" height="6.20" fill="#0cf43c"/>
<rect x="487.4" y="363.70" width="10" height="6.20" fill="#a4f40c"/>
<rect x="487.4" y="357.70" width="10" height="6.20" fill="#ffcc22"/>
<rect x="487.4" y="351.70" width="10" height="6.20" fill="#ff9018"/>
<rect x="487.4" y="345.70" width="10" height="6.20" fill="#ff560c"/>
<rect x="487.4" y="339.70" width="10" height="6.20" fill="#dc2410"/>
<rect x="487.4" y="333.70" width="10" height="6.20" fill="#8a0a08"/>
<rect x="487.4" y="333.70" width="10" height="72.00" fill="none" stroke="#333" stroke-width="0.4"/>
<text x="502.4" y="338.0" font-size="10" text-anchor="start" font-weight="normal" >600</text>
<text x="502.4" y="374.0" font-size="10" text-anchor="start" font-weight="normal" >400</text>
<text x="502.4" y="410.0" font-size="10" text-anchor="start" font-weight="normal" >200</text>
<text x="509.6" y="323.2" font-size="10.4" text-anchor="middle" font-weight="normal" >pCO<tspan font-size="7.6" dy="4.3">2</tspan><tspan dy="-4.3"> (</tspan><tspan font-style="italic">μ</tspan>atm)</text>
</g>
<g id="cb4">
<rect x="487.4" y="500.00" width="10" height="6.20" fill="#30123b"/>
<rect x="487.4" y="494.00" width="10" height="6.20" fill="#3f4fc8"/>
<rect x="487.4" y="488.00" width="10" height="6.20" fill="#1a8cf5"/>
<rect x="487.4" y="482.00" width="10" height="6.20" fill="#1cc6e2"/>
<rect x="487.4" y="476.00" width="10" height="6.20" fill="#10e6a0"/>
<rect x="487.4" y="470.00" width="10" height="6.20" fill="#0cf43c"/>
<rect x="487.4" y="464.00" width="10" height="6.20" fill="#a4f40c"/>
<rect x="487.4" y="458.00" width="10" height="6.20" fill="#ffcc22"/>
<rect x="487.4" y="452.00" width="10" height="6.20" fill="#ff9018"/>
<rect x="487.4" y="446.00" width="10" height="6.20" fill="#ff560c"/>
<rect x="487.4" y="440.00" width="10" height="6.20" fill="#dc2410"/>
<rect x="487.4" y="434.00" width="10" height="6.20" fill="#8a0a08"/>
<rect x="487.4" y="434.00" width="10" height="72.00" fill="none" stroke="#333" stroke-width="0.4"/>
<text x="502.4" y="438.3" font-size="10" text-anchor="start" font-weight="normal" >4</text>
<text x="502.4" y="462.3" font-size="10" text-anchor="start" font-weight="normal" >3</text>
<text x="502.4" y="486.3" font-size="10" text-anchor="start" font-weight="normal" >2</text>
<text x="502.4" y="510.3" font-size="10" text-anchor="start" font-weight="normal" >1</text>
<text x="492.0" y="423.9" font-size="10.4" text-anchor="middle" font-weight="normal" >Ω<tspan font-size="7.6" dy="4.3">a</tspan></text>
</g>
</g>
</svg></body></html>
